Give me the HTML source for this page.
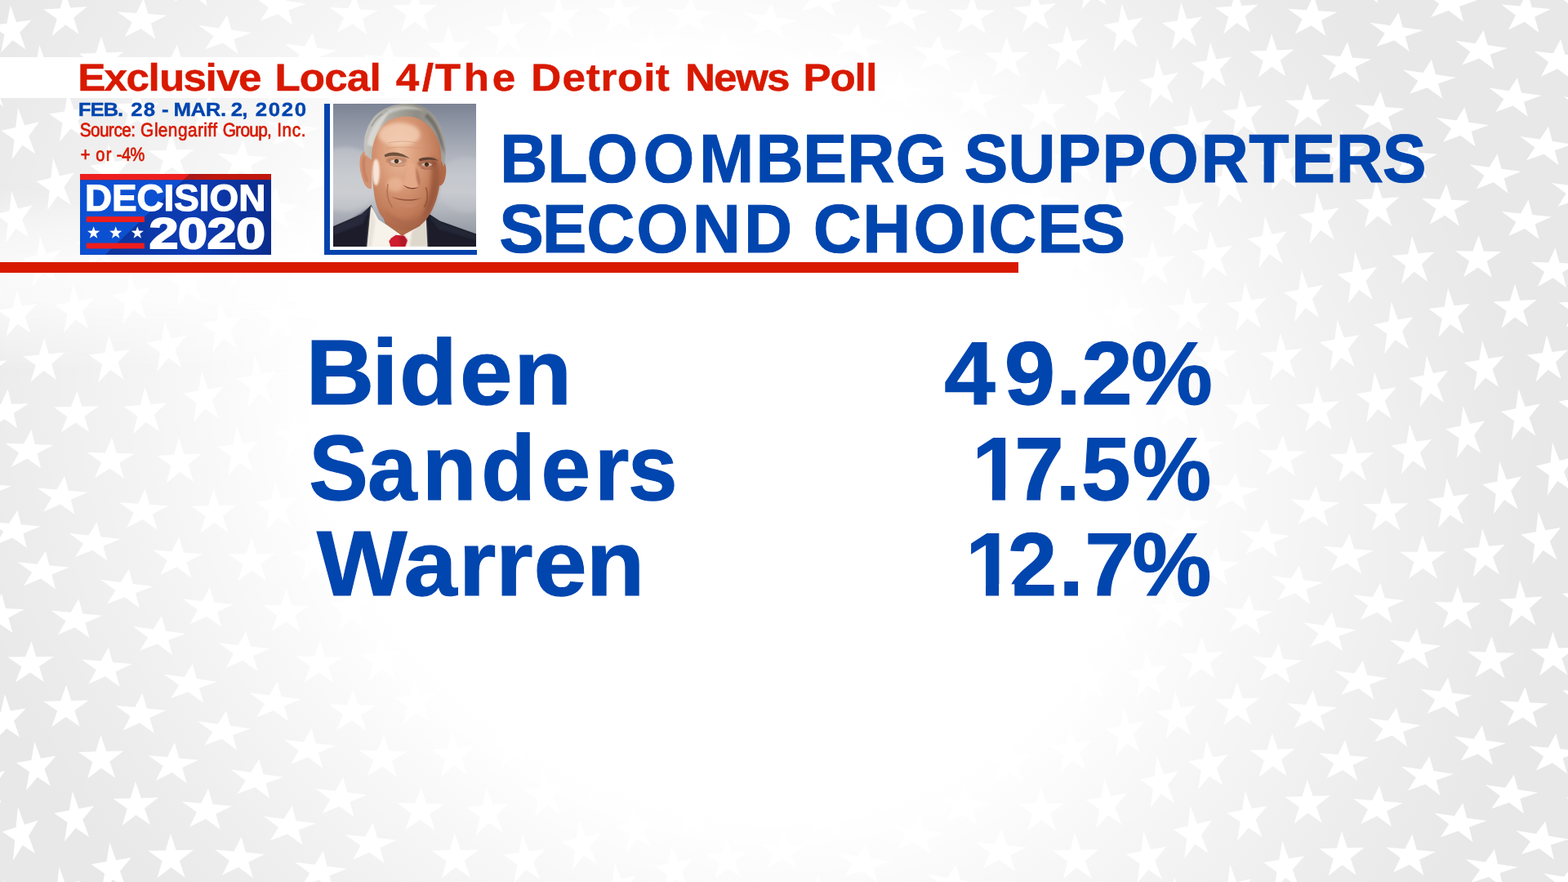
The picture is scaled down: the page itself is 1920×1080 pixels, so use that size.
<!DOCTYPE html>
<html lang="en">
<head>
<meta charset="utf-8">
<title>Exclusive Local 4/The Detroit News Poll</title>
<style>
html,body{margin:0;padding:0;}
body{width:1920px;height:1080px;overflow:hidden;position:relative;background:#e8e8e8;font-family:"Liberation Sans",sans-serif;}
#bg{position:absolute;left:0;top:0;width:1920px;height:1080px;}
#glowwrap{position:absolute;left:0;top:0;width:1920px;height:1080px;overflow:hidden;}
#glow{position:absolute;left:-613.5px;top:-960.2px;width:3000px;height:3000px;transform:rotate(28.21deg);
  background:radial-gradient(ellipse 1042.4px 903.5px at 1500px 1500px, rgba(255,255,255,1.000) 0.00%, rgba(255,255,255,1.000) 46.57%, rgba(255,255,255,0.997) 48.57%, rgba(255,255,255,0.985) 50.07%, rgba(255,255,255,0.955) 52.07%, rgba(255,255,255,0.902) 54.23%, rgba(255,255,255,0.805) 58.39%, rgba(255,255,255,0.711) 62.55%, rgba(255,255,255,0.618) 66.71%, rgba(255,255,255,0.527) 70.88%, rgba(255,255,255,0.439) 75.04%, rgba(255,255,255,0.353) 79.20%, rgba(255,255,255,0.271) 83.36%, rgba(255,255,255,0.193) 87.52%, rgba(255,255,255,0.119) 91.68%, rgba(255,255,255,0.052) 95.84%, rgba(255,255,255,0.000) 100.00%);}
#lineglow{position:absolute;left:0;top:225px;width:1400px;height:240px;
  background:linear-gradient(180deg, rgba(255,255,255,0) 0px, rgba(255,255,255,0.12) 20px, rgba(255,255,255,0.42) 49px, rgba(255,255,255,0.56) 70px, rgba(255,255,255,0.65) 90px, rgba(255,255,255,0.70) 111px, rgba(255,255,255,0.67) 145px, rgba(255,255,255,0.57) 155px, rgba(255,255,255,0.40) 178px, rgba(255,255,255,0.25) 200px, rgba(255,255,255,0.04) 228px, rgba(255,255,255,0) 240px);
  -webkit-mask-image:linear-gradient(90deg,#000 0,#000 60%,transparent 100%);mask-image:linear-gradient(90deg,#000 0,#000 60%,transparent 100%);}
#band{position:absolute;left:0;top:70px;width:1300px;height:50px;background:linear-gradient(90deg,#fff 0,#fff 55%,rgba(255,255,255,0) 100%);}
.t{position:absolute;white-space:nowrap;line-height:1;transform-origin:0 0;margin:0;}
.ln{position:absolute;left:0;width:1920px;height:0;margin:0;white-space:pre;}
#redline{position:absolute;left:0;top:321px;width:1247px;height:13px;background:#d81900;}
</style>
</head>
<body>
<svg id="bg" width="1920" height="1080" viewBox="0 0 1920 1080" style="position:absolute;left:0;top:0;" aria-hidden="true"><g fill="#ffffff">
<polygon points="1513.9,-13.1 1520.4,7.0 1540.7,5.6 1524.5,19.4 1531.0,39.4 1514.4,27.9 1498.2,41.7 1504.2,20.7 1487.6,9.2 1507.9,7.8"/>
<polygon points="1608.7,-5.8 1614.3,13.2 1637.4,14.7 1617.7,24.9 1623.3,43.9 1605.6,31.2 1585.9,41.4 1594.6,23.4 1576.8,10.7 1600.0,12.2"/>
<polygon points="1712.6,15.3 1717.6,33.5 1742.5,37.1 1720.7,44.7 1725.8,62.9 1707.3,49.5 1685.5,57.1 1695.8,41.1 1677.4,27.7 1702.3,31.3"/>
<polygon points="1816.6,36.9 1821.6,55.3 1846.1,58.8 1824.7,66.7 1829.8,85.1 1811.5,71.6 1790.1,79.6 1800.2,63.3 1781.9,49.8 1806.5,53.2"/>
<polygon points="1870.4,-10.2 1875.8,8.9 1898.9,11.0 1879.1,20.8 1884.5,39.9 1866.8,26.8 1847.0,36.5 1855.9,18.7 1838.3,5.5 1861.4,7.6"/>
<polygon points="1557.1,41.5 1563.7,61.4 1584.6,60.6 1567.7,73.7 1574.3,93.6 1557.3,81.8 1540.5,95.0 1546.8,74.5 1529.8,62.7 1550.7,61.9"/>
<polygon points="1650.0,51.4 1655.7,70.4 1679.2,72.4 1659.3,82.1 1665.0,101.0 1646.9,88.1 1627.0,97.8 1635.8,80.1 1617.8,67.1 1641.2,69.1"/>
<polygon points="1752.9,72.9 1758.0,91.2 1782.7,94.8 1761.1,102.5 1766.2,120.8 1747.7,107.3 1726.1,114.9 1736.3,98.9 1717.9,85.4 1742.6,89.0"/>
<polygon points="1857.9,95.1 1862.9,113.4 1887.4,117.0 1866.0,124.8 1870.9,143.1 1852.7,129.6 1831.2,137.3 1841.4,121.2 1823.2,107.6 1847.7,111.2"/>
<polygon points="1600.8,102.0 1607.7,122.2 1628.9,121.6 1611.9,134.7 1618.8,154.9 1601.5,142.7 1584.6,155.8 1590.8,135.2 1573.4,123.1 1594.6,122.5"/>
<polygon points="1690.4,111.8 1696.4,131.0 1719.7,132.9 1700.0,142.9 1705.9,162.0 1687.9,149.0 1668.2,158.9 1676.7,140.9 1658.6,127.9 1681.9,129.8"/>
<polygon points="1793.4,131.3 1798.5,149.7 1823.0,153.2 1801.6,161.0 1806.7,179.4 1788.4,165.9 1767.0,173.7 1777.1,157.5 1758.8,144.0 1783.3,147.5"/>
<polygon points="1896.1,154.8 1900.8,172.9 1925.3,176.7 1903.8,184.2 1908.6,202.3 1890.5,188.8 1869.0,196.3 1879.3,180.4 1861.2,166.9 1885.7,170.6"/>
<polygon points="1833.5,188.4 1838.5,206.8 1862.7,210.1 1841.7,218.2 1846.7,236.7 1828.7,223.3 1807.6,231.4 1817.5,215.0 1799.5,201.6 1823.6,204.8"/>
<polygon points="1771.1,225.1 1777.2,244.8 1799.7,246.0 1780.9,257.0 1786.9,276.7 1769.3,263.7 1750.5,274.7 1758.4,255.7 1740.7,242.8 1763.2,244.0"/>
<polygon points="1685.2,221.6 1692.5,242.7 1713.1,241.6 1697.0,255.8 1704.3,277.0 1687.0,264.6 1670.9,278.8 1676.3,257.0 1659.1,244.6 1679.7,243.4"/>
<polygon points="1871.4,244.5 1876.5,263.0 1899.8,265.4 1879.6,274.5 1884.7,293.0 1867.1,280.0 1847.0,289.1 1856.3,272.0 1838.8,259.1 1862.1,261.5"/>
<polygon points="1612.4,235.4 1620.6,257.7 1639.6,254.6 1625.7,271.5 1633.9,293.8 1617.1,281.9 1603.3,298.8 1606.8,274.6 1590.0,262.8 1608.9,259.7"/>
<polygon points="1549.0,264.3 1557.4,286.7 1575.8,283.2 1562.5,300.5 1570.9,322.9 1554.3,311.2 1541.1,328.6 1544.1,304.0 1527.5,292.3 1546.0,288.8"/>
<polygon points="1481.8,281.9 1489.7,303.6 1508.9,301.1 1494.6,316.9 1502.5,338.6 1485.7,326.7 1471.4,342.6 1475.4,319.4 1458.6,307.6 1477.8,305.1"/>
<polygon points="1729.0,288.7 1736.4,310.2 1756.5,308.4 1741.0,323.4 1748.4,344.9 1731.5,332.7 1716.0,347.7 1721.0,325.2 1704.0,313.0 1724.1,311.2"/>
<polygon points="1810.6,287.7 1816.8,307.7 1838.4,308.0 1820.6,320.0 1826.9,340.0 1809.7,327.5 1791.9,339.6 1799.1,319.8 1781.9,307.3 1803.5,307.5"/>
<polygon points="1904.4,303.4 1909.7,322.0 1931.5,322.8 1913.0,333.6 1918.2,352.2 1901.5,340.2 1882.9,351.0 1891.1,332.8 1874.4,320.8 1896.2,321.6"/>
<polygon points="1659.3,308.0 1667.5,330.4 1686.1,327.0 1672.6,344.3 1680.8,366.7 1664.2,355.0 1650.7,372.3 1653.9,347.7 1637.3,336.0 1656.0,332.6"/>
<polygon points="1593.6,330.2 1601.7,352.5 1620.2,349.0 1606.8,366.3 1614.9,388.6 1598.5,377.0 1585.1,394.3 1588.3,369.8 1571.9,358.2 1590.3,354.7"/>
<polygon points="1524.5,345.7 1531.9,367.2 1551.0,364.7 1536.5,380.4 1543.8,401.8 1527.5,390.1 1512.9,405.9 1517.4,382.9 1501.0,371.2 1520.1,368.7"/>
<polygon points="1773.1,352.8 1780.6,374.3 1800.0,371.9 1785.2,387.6 1792.7,409.0 1776.0,397.2 1761.2,412.9 1765.7,389.9 1749.1,378.1 1768.5,375.7"/>
<polygon points="1855.0,347.8 1861.3,367.8 1881.8,366.9 1865.2,380.2 1871.6,400.2 1855.0,388.4 1838.5,401.7 1844.8,381.1 1828.2,369.3 1848.7,368.4"/>
<polygon points="1567.8,407.8 1574.9,428.9 1594.6,426.8 1579.3,442.0 1586.4,463.1 1569.9,451.3 1554.7,466.5 1559.7,444.1 1543.2,432.3 1562.8,430.2"/>
<polygon points="1637.7,391.5 1645.8,413.6 1664.4,410.3 1650.7,427.3 1658.8,449.3 1642.3,437.8 1628.6,454.8 1632.1,430.6 1615.6,419.1 1634.2,415.7"/>
<polygon points="1703.6,369.2 1711.8,391.5 1730.3,388.0 1716.9,405.3 1725.0,427.5 1708.5,416.0 1695.1,433.3 1698.3,408.8 1681.8,397.3 1700.3,393.7"/>
<polygon points="1528.5,475.8 1534.2,495.2 1555.7,495.1 1537.6,507.3 1543.3,526.7 1526.5,514.8 1508.5,526.9 1516.1,507.4 1499.4,495.4 1520.9,495.3"/>
<polygon points="1612.7,471.9 1619.8,492.8 1640.1,491.3 1624.1,505.6 1631.1,526.5 1614.2,514.5 1598.2,528.9 1603.8,507.1 1586.8,495.2 1607.2,493.7"/>
<polygon points="1682.9,455.4 1690.9,477.3 1709.8,474.2 1695.8,490.8 1703.8,512.7 1687.2,501.1 1673.2,517.7 1676.9,493.9 1660.3,482.3 1679.2,479.2"/>
<polygon points="1746.7,435.0 1754.9,457.1 1773.3,453.5 1759.9,470.8 1768.1,493.0 1751.7,481.6 1738.4,499.0 1741.6,474.5 1725.1,463.1 1743.5,459.4"/>
<polygon points="1815.1,417.4 1822.7,439.0 1841.5,435.9 1827.5,452.3 1835.2,473.9 1818.8,462.4 1804.7,478.8 1808.7,455.4 1792.3,444.0 1811.1,440.9"/>
<polygon points="1893.9,410.4 1900.7,430.9 1920.0,428.5 1904.9,443.5 1911.7,464.0 1895.6,452.8 1880.5,467.7 1885.6,445.8 1869.5,434.6 1888.8,432.3"/>
<polygon points="1791.5,496.9 1799.8,519.1 1818.1,515.3 1805.0,532.8 1813.3,555.1 1796.9,543.7 1783.7,561.2 1786.7,536.6 1770.2,525.2 1788.5,521.4"/>
<polygon points="1859.4,476.1 1867.4,498.0 1885.7,494.4 1872.4,511.5 1880.4,533.4 1864.1,522.1 1850.8,539.3 1854.1,515.2 1837.8,503.9 1856.1,500.3"/>
<polygon points="1571.1,532.7 1576.8,552.0 1599.2,552.7 1580.3,563.8 1586.1,583.1 1568.7,570.7 1549.8,581.8 1557.9,563.1 1540.5,550.7 1562.9,551.5"/>
<polygon points="1654.7,534.4 1661.6,555.0 1682.5,554.1 1665.9,567.8 1672.9,588.4 1655.7,576.2 1639.1,589.8 1645.0,568.7 1627.9,556.5 1648.7,555.6"/>
<polygon points="1726.0,519.0 1734.0,540.8 1753.1,537.9 1738.9,554.2 1746.8,576.0 1730.1,564.3 1715.9,580.6 1719.7,557.1 1703.0,545.4 1722.1,542.5"/>
<polygon points="1900.9,541.4 1909.6,563.9 1927.6,559.9 1915.0,577.8 1923.7,600.4 1907.2,588.9 1894.6,606.9 1897.0,581.9 1880.4,570.4 1898.5,566.4"/>
<polygon points="1836.1,564.8 1844.8,587.2 1863.1,583.5 1850.1,601.1 1858.7,623.5 1842.0,611.9 1829.0,629.4 1831.7,604.7 1815.1,593.2 1833.4,589.5"/>
<polygon points="1611.6,594.7 1617.3,613.8 1640.4,615.4 1620.8,625.6 1626.5,644.7 1608.7,631.9 1589.1,642.1 1597.7,624.0 1579.9,611.2 1603.0,612.8"/>
<polygon points="1696.3,596.2 1703.2,616.6 1724.5,616.2 1707.5,629.2 1714.3,649.6 1696.9,637.2 1679.8,650.2 1686.1,629.6 1668.7,617.2 1690.0,616.8"/>
<polygon points="1771.6,585.6 1779.6,607.2 1799.0,604.7 1784.5,620.6 1792.5,642.2 1775.6,630.4 1761.0,646.3 1765.1,623.1 1748.1,611.2 1767.6,608.7"/>
<polygon points="1551.3,635.2 1556.2,653.3 1580.2,655.9 1559.2,664.4 1564.0,682.5 1546.2,669.7 1525.1,678.3 1535.1,661.8 1517.3,649.0 1541.3,651.7"/>
<polygon points="1883.6,626.7 1892.4,649.2 1911.1,646.0 1897.8,663.1 1906.6,685.6 1889.6,673.7 1876.3,690.9 1879.1,666.4 1862.1,654.5 1880.8,651.2"/>
<polygon points="1652.5,653.2 1658.1,672.2 1681.6,674.3 1661.6,683.9 1667.2,702.9 1649.2,689.8 1629.2,699.4 1638.1,681.8 1620.0,668.7 1643.6,670.8"/>
<polygon points="1742.0,655.3 1748.9,675.6 1770.5,675.5 1753.1,688.2 1760.0,708.4 1742.4,696.0 1725.0,708.6 1731.5,688.2 1713.9,675.7 1735.5,675.7"/>
<polygon points="1815.1,647.3 1823.1,668.8 1842.9,666.8 1828.0,682.1 1835.9,703.6 1818.7,691.5 1803.8,706.8 1808.1,684.1 1790.9,672.0 1810.8,670.0"/>
<polygon points="1591.1,692.0 1596.1,710.2 1620.5,713.3 1599.1,721.5 1604.0,739.7 1585.9,726.5 1564.5,734.6 1574.7,718.3 1556.5,705.1 1581.0,708.2"/>
<polygon points="1690.2,713.7 1695.7,732.5 1719.7,735.1 1699.1,744.2 1704.6,763.0 1686.4,749.8 1665.8,758.9 1675.1,741.6 1656.9,728.4 1680.9,730.9"/>
<polygon points="1784.9,717.7 1791.5,737.7 1813.6,738.2 1795.6,750.1 1802.2,770.2 1784.5,757.5 1766.5,769.5 1773.5,749.7 1755.9,737.1 1777.9,737.5"/>
<polygon points="1860.9,710.6 1868.4,731.7 1888.9,730.4 1873.1,744.7 1880.6,765.8 1863.3,753.6 1847.5,767.9 1852.6,746.0 1835.3,733.8 1855.8,732.5"/>
<polygon points="1529.9,728.4 1535.1,746.9 1558.4,748.7 1538.2,758.3 1543.4,776.7 1525.8,764.2 1505.6,773.7 1514.9,756.4 1497.3,743.8 1520.6,745.7"/>
<polygon points="1631.1,749.4 1636.1,767.8 1660.8,771.2 1639.2,779.1 1644.3,797.4 1625.9,784.0 1604.3,791.9 1614.5,775.7 1596.2,762.2 1620.9,765.7"/>
<polygon points="1735.0,769.2 1740.5,788.0 1764.6,790.7 1743.9,799.6 1749.3,818.5 1731.1,805.2 1710.3,814.1 1719.8,796.9 1701.5,783.6 1725.6,786.3"/>
<polygon points="1826.6,779.2 1832.7,798.9 1855.1,799.8 1836.5,811.0 1842.7,830.7 1825.1,818.0 1806.5,829.3 1814.1,810.2 1796.5,797.5 1818.9,798.4"/>
<polygon points="1901.4,773.4 1908.3,793.6 1929.4,793.0 1912.5,806.2 1919.3,826.5 1902.0,814.3 1885.1,827.5 1891.4,806.8 1874.1,794.7 1895.2,794.0"/>
<polygon points="1565.8,787.9 1571.2,806.7 1594.6,808.7 1574.6,818.4 1580.1,837.2 1562.2,824.3 1542.2,834.0 1551.2,816.4 1533.3,803.5 1556.8,805.5"/>
<polygon points="1668.9,808.4 1674.0,826.8 1698.8,830.3 1677.1,838.1 1682.2,856.5 1663.7,843.0 1642.1,850.8 1652.3,834.6 1633.8,821.1 1658.6,824.6"/>
<polygon points="1773.0,829.8 1778.3,848.4 1802.5,851.4 1781.5,860.0 1786.8,878.6 1768.5,865.3 1747.5,873.8 1757.3,857.0 1739.0,843.6 1763.3,846.6"/>
<polygon points="1867.5,841.1 1873.2,860.2 1896.1,861.6 1876.8,872.1 1882.5,891.2 1864.8,878.5 1845.5,889.0 1853.9,870.7 1836.3,858.0 1859.1,859.4"/>
<polygon points="1514.9,835.2 1521.4,855.1 1542.4,854.4 1525.4,867.4 1531.9,887.3 1514.9,875.4 1497.9,888.4 1504.4,868.1 1487.3,856.2 1508.4,855.5"/>
<polygon points="1607.8,845.3 1613.5,864.2 1637.0,866.3 1617.0,876.0 1622.7,894.9 1604.6,881.9 1584.6,891.5 1593.5,873.9 1575.4,860.9 1598.9,862.9"/>
<polygon points="1709.9,866.2 1715.0,884.6 1739.7,888.1 1718.1,895.9 1723.2,914.4 1704.8,900.8 1683.2,908.6 1693.4,892.4 1674.9,878.9 1699.7,882.4"/>
<polygon points="1814.8,888.2 1819.8,906.7 1844.1,909.9 1822.9,918.1 1828.0,936.6 1809.8,923.2 1788.6,931.5 1798.6,915.0 1780.5,901.6 1804.8,904.7"/>
<polygon points="1905.2,898.3 1910.4,917.0 1934.0,919.3 1913.7,928.6 1918.9,947.3 1901.1,934.3 1880.8,943.6 1890.1,926.3 1872.3,913.4 1895.8,915.6"/>
<polygon points="1557.7,897.3 1564.6,917.5 1585.7,916.8 1568.9,930.0 1575.7,950.2 1558.5,938.2 1541.6,951.4 1547.8,930.7 1530.5,918.6 1551.6,917.9"/>
<polygon points="1647.1,906.0 1652.9,925.2 1676.2,927.1 1656.5,937.0 1662.4,956.1 1644.3,943.1 1624.6,953.0 1633.2,935.0 1615.2,922.0 1638.5,924.0"/>
<polygon points="1477.2,905.9 1484.9,927.2 1503.7,924.0 1489.7,940.3 1497.4,961.6 1481.0,950.4 1467.0,966.7 1470.9,943.5 1454.5,932.3 1473.3,929.1"/>
<polygon points="1750.4,925.8 1755.4,944.1 1780.0,947.7 1758.5,955.5 1763.5,973.9 1745.2,960.3 1723.7,968.2 1733.9,952.0 1715.6,938.4 1740.2,942.0"/>
<polygon points="1853.9,948.6 1858.5,966.7 1883.1,970.4 1861.4,978.0 1866.0,996.2 1848.0,982.7 1826.2,990.3 1836.8,974.4 1818.7,960.9 1843.3,964.5"/>
<polygon points="1457.4,986.6 1465.8,1008.8 1483.8,1004.6 1471.0,1022.6 1479.4,1044.8 1463.1,1033.6 1450.2,1051.6 1453.0,1026.7 1436.6,1015.6 1454.7,1011.4"/>
<polygon points="1524.7,968.4 1532.6,990.0 1551.5,986.9 1537.5,1003.4 1545.4,1025.0 1528.8,1013.6 1514.8,1030.1 1518.6,1006.6 1502.0,995.2 1520.9,992.0"/>
<polygon points="1600.7,954.4 1607.6,974.8 1628.7,974.2 1611.8,987.4 1618.7,1007.8 1601.4,995.6 1584.6,1008.8 1590.7,988.0 1573.4,975.8 1594.5,975.2"/>
<polygon points="1689.0,962.0 1694.6,981.2 1717.9,983.2 1698.2,993.1 1703.9,1012.2 1686.0,999.2 1666.2,1009.0 1674.9,991.1 1657.0,978.0 1680.3,980.0"/>
<polygon points="1791.3,983.2 1796.0,1001.5 1820.5,1005.1 1798.9,1012.8 1803.5,1031.0 1785.5,1017.5 1763.9,1025.2 1774.3,1009.1 1756.3,995.6 1780.8,999.2"/>
<polygon points="1892.2,1005.8 1896.3,1023.6 1921.1,1027.7 1898.8,1034.6 1902.9,1052.5 1885.0,1038.9 1862.7,1045.9 1874.0,1030.6 1856.1,1017.1 1880.9,1021.1"/>
<polygon points="1570.3,1029.5 1578.0,1051.3 1597.1,1048.3 1582.7,1064.7 1590.5,1086.5 1573.9,1074.8 1559.5,1091.2 1563.6,1067.7 1547.1,1056.0 1566.2,1053.1"/>
<polygon points="1643.0,1017.7 1649.7,1038.3 1670.8,1037.8 1653.8,1051.0 1660.6,1071.6 1643.4,1059.2 1626.5,1072.5 1632.8,1051.6 1615.6,1039.2 1636.7,1038.6"/>
<polygon points="1729.3,1021.6 1734.7,1040.8 1757.9,1042.9 1738.0,1052.7 1743.4,1071.8 1725.8,1058.7 1705.9,1068.5 1714.9,1050.6 1697.2,1037.5 1720.4,1039.5"/>
<polygon points="1829.9,1039.9 1834.1,1057.9 1858.6,1061.7 1836.6,1069.1 1840.8,1087.1 1823.1,1073.7 1801.1,1081.0 1812.1,1065.3 1794.4,1051.9 1818.9,1055.6"/>
<polygon points="38.5,526.1 42.9,544.1 65.3,544.9 45.6,555.2 50.0,573.2 33.4,561.6 13.7,571.9 23.1,554.4 6.5,542.7 29.0,543.6"/>
<polygon points="137.0,535.5 142.7,554.8 165.0,555.4 146.3,566.8 152.0,586.1 134.7,573.8 116.0,585.1 124.0,566.2 106.7,553.9 129.0,554.4"/>
<polygon points="218.9,535.6 225.9,556.4 246.7,555.4 230.3,569.3 237.3,590.1 220.1,577.8 203.6,591.7 209.4,570.3 192.2,558.0 213.0,557.0"/>
<polygon points="79.2,582.7 83.9,600.7 107.5,602.7 86.8,611.8 91.5,629.8 74.0,617.5 53.2,626.6 63.2,609.8 45.7,597.5 69.3,599.5"/>
<polygon points="177.5,598.5 183.3,617.7 206.4,619.2 186.9,629.6 192.6,648.8 174.8,636.0 155.3,646.3 163.8,628.0 146.0,615.2 169.0,616.7"/>
<polygon points="261.5,598.4 268.5,619.0 289.8,618.5 272.8,631.7 279.8,652.3 262.3,639.8 245.3,653.0 251.5,632.1 234.0,619.7 255.3,619.2"/>
<polygon points="118.6,639.2 123.4,657.3 147.7,660.1 126.4,668.5 131.3,686.6 113.3,673.7 92.0,682.1 102.2,665.7 84.2,652.7 108.4,655.6"/>
<polygon points="219.2,657.4 224.9,676.5 248.4,678.6 228.5,688.3 234.2,707.4 216.1,694.3 196.1,704.1 204.9,686.3 186.8,673.2 210.4,675.2"/>
<polygon points="55.8,674.5 60.4,692.3 84.5,694.8 63.3,703.4 68.0,721.2 50.2,708.6 29.0,717.2 39.2,700.9 21.4,688.3 45.5,690.8"/>
<polygon points="157.9,696.7 162.9,714.9 187.5,718.1 166.0,726.2 170.9,744.4 152.7,731.2 131.2,739.2 141.4,723.0 123.1,709.7 147.7,712.9"/>
<polygon points="256.9,718.7 262.5,737.6 286.4,740.1 265.9,749.2 271.5,768.1 253.2,754.9 232.7,764.0 241.9,746.7 223.7,733.5 247.7,736.0"/>
<polygon points="96.3,733.2 101.4,751.4 125.3,753.8 104.5,762.7 109.5,781.0 91.6,768.2 70.8,777.2 80.6,760.4 62.7,747.6 86.6,750.0"/>
<polygon points="197.9,754.2 203.0,772.5 227.7,775.9 206.1,783.8 211.1,802.1 192.7,788.6 171.1,796.5 181.3,780.4 162.9,766.9 187.7,770.4"/>
<polygon points="235.8,812.8 240.9,831.1 265.7,834.7 244.1,842.5 249.2,860.8 230.7,847.3 209.0,855.0 219.3,838.9 200.8,825.4 225.6,829.0"/>
<polygon points="339.4,834.4 344.7,853.0 368.8,855.9 348.0,864.6 353.3,883.2 335.1,869.9 314.2,878.6 323.8,861.7 305.6,848.4 329.8,851.3"/>
<polygon points="432.6,843.8 438.6,863.2 460.8,863.7 442.3,875.2 448.3,894.6 430.9,882.3 412.4,893.8 420.1,874.7 402.7,862.4 424.9,862.9"/>
<polygon points="81.1,838.4 87.4,857.9 108.7,857.4 91.3,870.0 97.7,889.5 80.6,877.7 63.3,890.3 70.1,870.5 53.1,858.7 74.3,858.2"/>
<polygon points="174.2,848.7 179.9,867.5 203.5,869.7 183.3,879.1 189.0,897.9 170.9,884.9 150.8,894.4 159.7,876.9 141.7,863.9 165.3,866.1"/>
<polygon points="276.9,870.3 282.0,888.7 306.8,892.3 285.1,900.0 290.2,918.4 271.8,904.8 250.2,912.6 260.4,896.4 241.9,882.9 266.7,886.5"/>
<polygon points="381.5,891.7 386.7,910.3 410.8,913.1 389.9,921.8 395.1,940.4 377.0,927.1 356.1,935.8 365.8,919.0 347.7,905.7 371.8,908.6"/>
<polygon points="42.4,907.9 49.9,928.8 68.5,925.5 54.5,941.7 62.0,962.6 45.9,951.7 31.9,968.0 35.9,945.0 19.8,934.1 38.4,930.8"/>
<polygon points="123.5,899.9 130.3,920.0 151.4,919.4 134.4,932.4 141.2,952.4 123.9,940.4 107.0,953.4 113.3,933.0 96.1,920.9 117.2,920.3"/>
<polygon points="213.7,909.3 219.5,928.4 242.9,930.4 223.1,940.1 228.8,959.2 210.8,946.1 190.9,955.8 199.6,938.0 181.6,925.0 205.0,927.1"/>
<polygon points="317.3,929.6 322.4,948.0 347.0,951.5 325.5,959.3 330.5,977.7 312.2,964.1 290.6,972.0 300.8,955.8 282.5,942.3 307.1,945.8"/>
<polygon points="420.2,951.7 425.4,970.3 449.5,973.2 428.6,981.9 433.7,1000.5 415.6,987.2 394.6,995.9 404.4,979.0 386.3,965.7 410.5,968.6"/>
<polygon points="21.9,987.8 30.0,1009.8 46.8,1004.4 35.0,1023.4 43.1,1045.3 27.7,1035.1 15.9,1054.0 18.2,1028.7 2.8,1018.5 19.6,1013.1"/>
<polygon points="88.7,968.7 96.5,990.2 115.1,986.8 101.3,1003.5 109.1,1025.0 92.7,1013.8 78.9,1030.5 82.6,1006.9 66.3,995.7 84.9,992.3"/>
<polygon points="165.9,956.8 172.8,977.2 194.0,976.6 177.0,989.8 183.9,1010.1 166.5,997.9 149.6,1011.0 155.8,990.3 138.5,978.0 159.7,977.5"/>
<polygon points="255.0,965.7 260.7,984.8 284.0,986.9 264.2,996.7 269.9,1015.8 252.0,1002.7 232.1,1012.5 240.9,994.6 222.9,981.5 246.2,983.5"/>
<polygon points="357.8,986.5 362.6,1004.9 387.1,1008.3 365.6,1016.3 370.4,1034.7 352.3,1021.2 330.8,1029.2 341.1,1012.9 323.0,999.4 347.5,1002.8"/>
<polygon points="134.4,1031.4 142.1,1053.2 161.1,1050.1 146.9,1066.7 154.7,1088.5 138.2,1076.9 124.1,1093.5 128.0,1069.8 111.5,1058.2 130.4,1055.1"/>
<polygon points="208.9,1020.5 215.7,1041.1 236.9,1040.7 219.9,1053.9 226.6,1074.6 209.4,1062.1 192.4,1075.3 198.7,1054.3 181.4,1041.8 202.6,1041.4"/>
<polygon points="295.5,1024.6 300.9,1043.8 324.2,1045.9 304.3,1055.7 309.8,1075.0 292.0,1061.8 272.1,1071.7 281.0,1053.7 263.3,1040.5 286.5,1042.6"/>
<polygon points="395.8,1042.0 400.6,1060.7 424.9,1063.7 403.5,1072.2 408.2,1090.9 390.3,1077.5 368.9,1086.0 379.2,1069.2 361.2,1055.8 385.5,1058.8"/>
<polygon points="89.6,347.3 96.6,368.3 115.0,365.1 101.0,381.3 108.0,402.3 92.3,391.3 78.3,407.6 82.6,384.5 66.9,373.6 85.3,370.3"/>
<polygon points="54.2,413.7 59.8,433.3 79.4,431.5 63.3,445.4 68.9,465.1 53.4,454.1 37.3,468.0 43.7,447.3 28.2,436.3 47.7,434.4"/>
<polygon points="133.2,409.6 140.2,430.5 159.5,428.1 144.5,443.5 151.4,464.4 135.2,453.0 120.1,468.4 125.1,445.9 108.9,434.5 128.2,432.1"/>
<polygon points="201.7,392.3 209.6,414.2 228.2,410.7 214.5,427.7 222.4,449.7 206.0,438.3 192.3,455.3 195.8,431.2 179.4,419.8 198.1,416.3"/>
<polygon points="94.6,478.4 100.1,497.8 121.3,497.3 103.5,509.7 109.1,529.1 92.5,517.4 74.8,529.8 82.3,510.2 65.8,498.5 87.0,498.0"/>
<polygon points="177.3,474.1 184.3,494.9 204.5,493.3 188.6,507.8 195.6,528.7 178.8,516.8 162.9,531.4 168.4,509.5 151.5,497.7 171.8,496.0"/>
<polygon points="246.8,454.5 254.7,476.5 273.6,473.4 259.6,490.1 267.6,512.1 250.9,500.4 236.9,517.1 240.7,493.2 224.1,481.6 243.0,478.4"/>
<polygon points="22.0,131.7 30.2,153.4 47.9,149.2 35.2,166.8 43.3,188.5 27.4,177.7 14.7,195.2 17.5,171.0 1.5,160.1 19.2,156.0"/>
<polygon points="83.1,113.4 90.8,134.6 109.6,131.5 95.5,147.7 103.2,168.8 86.8,157.6 72.7,173.8 76.7,150.7 60.3,139.5 79.1,136.5"/>
<polygon points="64.9,193.3 73.3,215.4 91.1,211.2 78.4,229.0 86.8,251.0 70.6,240.0 57.9,257.8 60.6,233.2 44.4,222.1 62.3,218.0"/>
<polygon points="14.2,234.0 22.2,255.6 39.7,251.3 27.2,268.9 35.2,290.6 19.4,279.9 6.9,297.5 9.7,273.2 -6.1,262.6 11.4,258.2"/>
<polygon points="79.7,-10.5 86.2,9.5 106.5,8.2 90.2,21.8 96.6,41.8 80.1,30.3 63.7,43.9 69.8,23.1 53.3,11.6 73.6,10.3"/>
<polygon points="175.8,-1.9 181.3,17.1 204.5,18.7 184.8,28.8 190.3,47.8 172.6,35.1 152.8,45.2 161.6,27.2 143.8,14.5 167.0,16.1"/>
<polygon points="508.2,830.6 515.0,850.9 535.2,849.0 519.3,863.5 526.1,883.8 509.4,872.4 493.5,887.0 499.1,865.4 482.4,854.1 502.6,852.1"/>
<polygon points="553.9,894.5 561.1,915.4 581.5,913.8 565.5,928.3 572.6,949.2 555.6,937.3 539.5,951.8 545.0,929.9 528.0,918.0 548.4,916.4"/>
<polygon points="515.6,963.8 522.1,984.0 544.5,984.6 526.1,996.5 532.6,1016.7 514.7,1003.8 496.3,1015.7 503.7,995.9 485.8,983.0 508.2,983.6"/>
<polygon points="595.6,963.9 603.3,985.2 623.7,983.4 608.1,998.3 615.8,1019.6 598.5,1007.6 582.9,1022.6 587.8,1000.2 570.4,988.1 590.8,986.3"/>
<polygon points="664.5,940.9 672.6,962.1 691.6,958.9 677.7,975.3 685.8,996.5 669.1,985.4 655.1,1001.7 658.7,978.5 642.0,967.3 661.0,964.1"/>
<polygon points="556.6,1019.9 564.0,1040.9 585.9,1040.5 568.6,1053.8 576.0,1074.8 557.9,1062.1 540.7,1075.4 546.8,1054.2 528.7,1041.5 550.6,1041.1"/>
<polygon points="639.6,1021.2 647.9,1042.4 667.5,1039.6 653.0,1055.4 661.3,1076.6 644.0,1065.2 629.5,1081.0 633.4,1058.2 616.1,1046.8 635.7,1044.0"/>
<polygon points="708.9,1004.0 717.3,1024.6 735.7,1020.7 722.6,1037.3 731.0,1057.9 714.4,1047.6 701.2,1064.2 704.1,1041.2 687.6,1030.8 706.0,1027.0"/>
<polygon points="775.6,985.0 783.7,1004.9 802.1,1001.3 788.7,1017.2 796.8,1037.0 780.4,1027.0 767.0,1042.9 770.3,1020.8 754.0,1010.7 772.3,1007.1"/>
<polygon points="1274.4,962.9 1281.6,983.5 1303.3,983.4 1286.0,996.3 1293.2,1017.0 1275.3,1004.3 1258.0,1017.2 1264.3,996.5 1246.4,983.8 1268.1,983.6"/>
<polygon points="1352.3,952.9 1360.3,974.6 1379.6,971.8 1365.3,988.1 1373.4,1009.8 1356.4,998.1 1342.1,1014.4 1346.0,990.9 1329.1,979.3 1348.4,976.4"/>
<polygon points="1416.8,926.2 1424.9,948.0 1443.1,944.0 1429.9,961.4 1438.0,983.2 1421.8,972.2 1408.6,989.6 1411.7,965.4 1395.5,954.4 1413.6,950.4"/>
<polygon points="1310.1,888.2 1317.5,908.9 1336.9,906.1 1322.1,921.8 1329.6,942.6 1313.0,931.5 1298.3,947.1 1302.8,924.6 1286.2,913.5 1305.6,910.7"/>
<polygon points="1375.6,865.6 1383.2,886.6 1401.6,882.8 1387.9,899.6 1395.5,920.6 1379.5,910.0 1365.9,926.8 1369.6,903.4 1353.6,892.8 1371.9,889.0"/>
<polygon points="1226.3,1015.2 1232.8,1035.0 1256.9,1037.6 1236.8,1047.2 1243.2,1066.9 1224.3,1053.1 1204.1,1062.6 1212.6,1044.5 1193.7,1030.7 1217.9,1033.3"/>
<polygon points="1315.8,1019.2 1323.7,1040.7 1345.2,1040.2 1328.6,1053.9 1336.6,1075.4 1318.4,1062.4 1301.8,1076.2 1307.1,1054.4 1289.0,1041.5 1310.5,1041.0"/>
<polygon points="1400.5,1017.8 1409.0,1040.2 1427.8,1036.8 1414.3,1054.0 1422.8,1076.4 1405.9,1064.7 1392.4,1081.9 1395.5,1057.4 1378.6,1045.7 1397.4,1042.3"/>
<polygon points="1373.7,4.4 1381.1,24.9 1399.6,21.4 1385.7,37.6 1393.1,58.1 1377.1,47.6 1363.1,63.8 1367.2,41.1 1351.2,30.6 1369.7,27.1"/>
<polygon points="1306.0,30.5 1313.2,50.4 1332.7,47.8 1317.6,62.6 1324.8,82.4 1308.3,71.7 1293.2,86.5 1298.1,65.1 1281.6,54.5 1301.1,51.9"/>
<polygon points="1416.8,71.2 1424.4,92.4 1442.9,88.9 1429.2,105.5 1436.8,126.6 1420.7,115.7 1407.0,132.2 1410.7,108.9 1394.6,98.0 1413.0,94.5"/>
<polygon points="1107.1,-6.1 1112.9,10.9 1137.0,13.7 1116.5,21.4 1122.4,38.4 1103.9,26.1 1083.5,33.9 1092.5,18.6 1074.0,6.3 1098.1,9.1"/>
<polygon points="1190.6,-5.5 1196.9,12.2 1218.7,12.6 1200.8,23.1 1207.0,40.8 1189.7,29.6 1171.8,40.2 1179.0,22.7 1161.6,11.6 1183.4,12.0"/>
<polygon points="1266.6,-12.7 1273.5,5.9 1293.4,3.9 1277.7,17.5 1284.5,36.1 1268.0,25.8 1252.2,39.4 1257.7,19.5 1241.2,9.2 1261.1,7.2"/>
<polygon points="1050.5,29.2 1056.0,46.4 1081.4,50.6 1059.5,57.0 1065.0,74.1 1045.9,61.0 1024.0,67.4 1034.1,52.8 1015.0,39.6 1040.4,43.8"/>
<polygon points="1149.3,42.7 1155.1,60.4 1178.5,62.6 1158.7,71.4 1164.5,89.1 1146.5,76.8 1126.8,85.5 1135.4,69.2 1117.4,56.8 1140.7,59.0"/>
<polygon points="1232.7,45.4 1239.1,64.1 1260.4,63.9 1243.1,75.7 1249.6,94.4 1232.4,83.0 1215.1,94.8 1221.8,75.9 1204.7,64.5 1226.0,64.3"/>
<polygon points="508.4,-14.5 514.8,5.9 535.9,5.6 518.7,18.5 525.1,39.0 508.0,26.5 490.8,39.4 497.5,18.8 480.5,6.4 501.7,6.1"/>
<polygon points="617.8,8.2 625.5,29.9 645.0,27.9 630.3,43.4 638.0,65.1 621.2,52.9 606.5,68.4 610.8,45.5 594.0,33.3 613.5,31.2"/>
<polygon points="549.1,30.4 556.0,51.4 576.7,50.3 560.3,64.3 567.2,85.3 550.1,72.9 533.7,86.9 539.6,65.3 522.5,53.0 543.2,52.0"/>
<polygon points="682.7,-7.9 690.4,12.8 709.8,10.9 695.2,25.6 702.9,46.4 686.2,34.7 671.6,49.5 675.9,27.6 659.2,15.9 678.5,14.0"/>
<polygon points="756.4,-9.9 763.6,8.9 784.1,8.0 768.0,20.4 775.2,39.2 758.1,28.1 742.0,40.6 747.5,21.3 730.4,10.3 750.9,9.4"/>
<polygon points="845.9,-4.1 852.4,12.8 875.5,14.3 856.3,23.3 862.8,40.2 844.5,28.9 825.3,37.9 833.2,21.9 814.9,10.5 838.1,12.0"/>
<polygon points="945.2,4.7 951.0,21.4 976.5,25.3 954.6,31.7 960.4,48.4 941.1,35.7 919.2,42.1 929.1,27.8 909.8,15.1 935.3,19.0"/>
<polygon points="796.9,33.2 803.9,51.6 824.9,50.9 808.2,62.9 815.2,81.2 797.8,70.3 781.1,82.3 787.1,63.6 769.8,52.6 790.8,52.0"/>
<polygon points="886.6,38.2 892.7,55.5 916.4,57.5 896.5,66.2 902.5,83.4 884.1,71.5 864.2,80.1 872.8,64.1 854.4,52.2 878.1,54.2"/>
<polygon points="278.3,18.5 283.3,36.6 308.1,40.2 286.4,47.9 291.4,66.0 272.9,52.6 251.1,60.2 261.5,44.3 243.0,30.8 267.9,34.4"/>
<polygon points="1481.9,51.7 1489.2,72.5 1508.1,69.6 1493.7,85.3 1501.0,106.0 1484.8,94.9 1470.3,110.5 1474.7,88.1 1458.5,77.0 1477.4,74.2"/>
<polygon points="1519.3,110.4 1527.0,131.5 1546.1,128.7 1531.8,144.6 1539.5,165.7 1522.9,154.4 1508.6,170.3 1512.7,147.4 1496.1,136.1 1515.2,133.3"/>
<polygon points="1457.9,128.8 1465.9,150.3 1484.5,147.0 1470.8,163.6 1478.8,185.2 1462.4,173.9 1448.8,190.6 1452.2,167.0 1435.8,155.7 1454.4,152.4"/>
<polygon points="1454.4,351.4 1461.1,371.8 1481.1,370.4 1465.2,384.5 1471.8,404.9 1455.3,393.2 1439.4,407.3 1445.1,385.9 1428.6,374.2 1448.7,372.7"/>
<polygon points="1488.9,410.1 1494.9,430.1 1515.2,429.0 1498.5,442.5 1504.5,462.4 1488.2,450.8 1471.6,464.3 1478.2,443.6 1461.9,431.9 1482.3,430.8"/>
<polygon points="1513.4,578.2 1518.2,596.2 1541.7,598.1 1521.2,607.4 1525.9,625.4 1508.5,613.1 1488.0,622.4 1497.7,605.5 1480.2,593.3 1503.7,595.1"/>
<polygon points="1472.0,522.2 1476.6,540.3 1499.1,541.2 1479.4,551.6 1484.0,569.7 1467.3,558.0 1447.6,568.4 1456.9,550.7 1440.2,539.0 1462.7,539.8"/>
<polygon points="1490.1,669.2 1494.9,687.2 1518.1,688.7 1497.9,698.4 1502.8,716.4 1485.5,704.4 1465.4,714.1 1474.8,696.9 1457.5,684.9 1480.6,686.3"/>
<polygon points="1471.5,779.4 1477.7,798.9 1498.5,797.9 1481.5,811.0 1487.6,830.5 1471.0,819.1 1454.0,832.1 1460.7,812.0 1444.0,800.6 1464.8,799.6"/>
<polygon points="289.5,520.7 297.5,542.7 316.8,539.9 302.5,556.2 310.5,578.2 293.6,566.3 279.3,582.7 283.2,559.0 266.4,547.1 285.6,544.4"/>
<polygon points="336.3,588.7 344.3,610.5 363.9,608.1 349.3,624.0 357.4,645.8 340.3,633.8 325.8,649.7 329.8,626.4 312.7,614.4 332.3,612.0"/>
<polygon points="308.0,657.6 314.9,678.1 336.5,677.9 319.2,690.7 326.2,711.1 308.5,698.6 291.3,711.4 297.6,690.8 280.0,678.3 301.6,678.2"/>
<polygon points="350.6,721.1 357.2,741.2 379.1,741.5 361.3,753.7 367.9,773.8 350.2,761.2 332.4,773.3 339.3,753.4 321.7,740.8 343.6,741.0"/>
<polygon points="301.2,772.7 306.7,791.6 330.7,794.2 310.1,803.2 315.6,822.1 297.3,808.8 276.7,817.8 286.0,800.6 267.8,787.3 291.8,789.9"/>
<polygon points="158.8,333.1 166.7,355.1 185.0,351.3 171.6,368.7 179.6,390.7 163.4,379.4 150.0,396.8 153.4,372.4 137.2,361.2 155.4,357.4"/>
<polygon points="269.2,368.5 277.3,390.7 296.0,387.3 282.3,404.3 290.3,426.5 273.8,414.9 260.1,432.0 263.6,407.8 247.1,396.2 265.7,392.8"/>
<polygon points="311.9,435.5 320.1,457.7 338.7,454.2 325.1,471.4 333.3,493.7 316.8,482.1 303.2,499.3 306.5,474.9 290.0,463.3 308.6,459.9"/>
<polygon points="625.2,881.1 632.9,902.3 652.1,899.6 637.6,915.4 645.3,936.6 628.7,925.2 614.3,941.1 618.4,918.2 601.8,906.8 621.0,904.0"/>
<polygon points="729.8,922.0 737.7,942.4 756.6,939.3 742.6,955.1 750.5,975.5 733.9,964.8 719.9,980.5 723.7,958.2 707.1,947.5 726.0,944.4"/>
<polygon points="846.0,971.6 853.2,990.7 872.7,988.7 857.6,1002.6 864.8,1021.7 848.3,1011.2 833.2,1025.1 838.1,1004.7 821.6,994.1 841.1,992.0"/>
<polygon points="822.1,1036.3 829.9,1055.3 848.1,1051.8 834.8,1067.0 842.6,1086.0 826.5,1076.4 813.2,1091.5 816.6,1070.4 800.5,1060.8 818.7,1057.4"/>
<polygon points="888.8,1025.1 895.7,1043.6 915.2,1042.0 900.0,1055.0 906.9,1073.5 890.6,1063.1 875.4,1076.2 880.5,1056.7 864.2,1046.3 883.7,1044.6"/>
<polygon points="1126.1,997.6 1131.2,1016.0 1156.5,1020.3 1134.3,1027.4 1139.4,1045.8 1120.6,1031.8 1098.5,1038.9 1109.0,1023.2 1090.2,1009.2 1115.5,1013.4"/>
<polygon points="1061.0,1033.2 1066.1,1051.1 1091.1,1055.1 1069.2,1062.1 1074.2,1080.1 1055.6,1066.5 1033.7,1073.6 1044.2,1058.2 1025.6,1044.6 1050.6,1048.6"/>
<polygon points="1234.8,905.3 1241.5,925.1 1262.9,924.9 1245.6,937.4 1252.2,957.2 1234.8,945.1 1217.5,957.6 1224.1,937.6 1206.7,925.5 1228.2,925.3"/>
<polygon points="1182.2,961.0 1187.9,980.2 1211.9,982.9 1191.5,992.0 1197.2,1011.2 1178.8,997.6 1158.4,1006.8 1167.5,989.3 1149.2,975.8 1173.1,978.5"/>
<polygon points="1332.8,803.7 1339.8,823.4 1358.3,819.5 1344.1,835.6 1351.1,855.3 1335.3,845.6 1321.1,861.6 1325.6,839.5 1309.8,829.8 1328.3,825.9"/>
<polygon points="1403.7,797.5 1410.5,817.5 1429.5,814.3 1414.8,829.9 1421.6,849.9 1405.7,839.5 1391.0,855.1 1395.8,833.1 1379.9,822.7 1398.8,819.5"/>
<polygon points="1018.4,977.8 1023.3,995.8 1047.6,999.0 1026.3,1006.9 1031.2,1024.9 1013.2,1011.7 991.9,1019.6 1002.0,1003.6 984.0,990.5 1008.3,993.7"/>
<polygon points="1194.3,96.4 1200.1,115.0 1223.1,116.9 1203.6,126.5 1209.3,145.2 1191.5,132.5 1172.0,142.1 1180.5,124.6 1162.8,111.9 1185.8,113.8"/>
<polygon points="1277.6,107.4 1284.2,127.4 1305.6,127.0 1288.4,139.7 1295.1,159.7 1277.7,147.5 1260.5,160.2 1267.0,140.0 1249.7,127.9 1271.0,127.6"/>
<polygon points="1352.2,92.3 1359.7,113.3 1379.1,110.7 1364.4,126.3 1371.9,147.2 1355.2,135.9 1340.4,151.5 1344.9,128.9 1328.3,117.5 1347.7,114.9"/>
<polygon points="345.4,-17.2 350.4,1.1 374.9,4.4 353.5,12.4 358.4,30.7 340.2,17.3 318.7,25.4 328.9,9.1 310.7,-4.2 335.2,-0.9"/>
<polygon points="434.9,-8.0 440.4,11.2 463.2,12.7 443.9,23.1 449.4,42.4 431.9,29.6 412.6,40.1 421.1,21.7 403.6,8.9 426.4,10.3"/>
<polygon points="1911.1,47.9 1916.4,66.8 1939.9,69.3 1919.7,78.5 1925.0,97.5 1907.2,84.2 1887.1,93.4 1896.3,76.0 1878.5,62.7 1901.9,65.2"/>
<polygon points="1778.9,-21.4 1783.9,-3.1 1808.6,0.2 1787.0,8.1 1792.0,26.4 1773.7,13.0 1752.1,20.9 1762.3,4.8 1744.0,-8.6 1768.7,-5.2"/>
<polygon points="241.0,-40.3 245.9,-22.1 270.7,-18.7 248.9,-10.9 253.8,7.2 235.4,-6.1 213.6,1.7 224.1,-14.3 205.7,-27.7 230.5,-24.3"/>
<polygon points="382.8,40.2 387.9,58.6 412.2,61.7 391.0,70.0 396.1,88.4 378.0,75.1 356.8,83.5 366.7,66.9 348.6,53.6 372.9,56.7"/>
<polygon points="476.4,50.0 482.2,69.5 504.7,70.5 485.9,81.5 491.7,101.0 474.2,88.3 455.3,99.4 463.4,80.5 445.9,67.8 468.3,68.8"/>
<polygon points="123.9,44.5 130.5,64.4 151.4,63.6 134.5,76.7 141.0,96.6 124.0,84.8 107.1,97.8 113.5,77.5 96.5,65.7 117.5,64.9"/>
<polygon points="217.0,54.8 222.7,73.7 246.2,75.7 226.2,85.4 231.9,104.3 213.9,91.3 193.9,101.0 202.7,83.3 184.6,70.4 208.2,72.4"/>
<polygon points="319.5,76.2 324.6,94.5 349.4,98.0 327.8,105.8 332.9,124.1 314.4,110.6 292.8,118.3 303.0,102.2 284.6,88.7 309.3,92.3"/>
<polygon points="424.2,97.8 429.3,116.3 453.5,119.2 432.5,127.8 437.7,146.3 419.6,133.1 398.7,141.6 408.4,124.9 390.3,111.6 414.4,114.5"/>
<polygon points="513.2,105.9 519.3,125.7 541.9,126.6 523.0,137.9 529.1,157.6 511.4,144.8 492.5,156.1 500.4,136.9 482.7,124.1 505.3,125.1"/>
<polygon points="167.0,106.0 173.9,126.3 195.1,125.7 178.1,138.8 185.0,159.0 167.7,146.9 150.8,159.9 157.0,139.4 139.6,127.2 160.8,126.6"/>
<polygon points="256.6,115.3 262.6,134.5 285.9,136.4 266.2,146.3 272.1,165.5 254.0,152.5 234.4,162.4 242.9,144.4 224.8,131.3 248.1,133.3"/>
<polygon points="359.9,135.1 365.0,153.5 389.5,156.9 368.2,164.9 373.3,183.3 355.0,169.8 333.6,177.8 343.7,161.5 325.3,148.0 349.9,151.4"/>
<polygon points="462.6,157.5 467.7,176.1 491.9,179.0 470.9,187.5 476.0,206.1 457.9,192.8 436.9,201.4 446.7,184.6 428.6,171.4 452.8,174.3"/>
<polygon points="132.7,176.2 140.8,197.9 159.8,194.9 145.8,211.4 153.9,233.1 137.2,221.6 123.2,238.0 126.8,214.4 110.1,202.8 129.1,199.8"/>
<polygon points="209.2,162.9 216.3,183.6 237.4,182.9 220.7,196.4 227.9,217.0 210.4,204.7 193.7,218.1 199.6,197.0 182.2,184.7 203.3,184.0"/>
<polygon points="297.8,171.2 303.7,190.6 326.8,192.3 307.4,202.6 313.4,222.0 295.4,208.9 276.1,219.2 284.3,200.8 266.4,187.7 289.5,189.5"/>
<polygon points="400.2,192.1 405.2,210.6 429.5,213.7 408.4,222.0 413.4,240.5 395.3,227.1 374.2,235.4 384.1,218.8 366.0,205.4 390.3,208.6"/>
<polygon points="500.2,213.9 505.2,232.3 529.2,234.9 508.3,243.7 513.3,262.2 495.3,249.2 474.4,258.0 484.2,241.2 466.3,228.2 490.3,230.8"/>
<polygon points="178.3,238.2 186.5,260.3 205.3,257.1 191.5,274.0 199.6,296.1 182.9,284.4 169.1,301.3 172.6,277.2 155.9,265.5 174.8,262.3"/>
<polygon points="251.5,225.7 258.7,246.8 279.4,245.7 263.2,259.8 270.5,280.9 253.2,268.6 237.0,282.7 242.6,260.9 225.3,248.6 246.0,247.5"/>
<polygon points="337.7,229.5 343.7,249.1 366.3,250.5 347.4,261.3 353.4,281.0 335.7,268.0 316.8,278.8 324.7,260.0 307.0,247.0 329.7,248.3"/>
<polygon points="438.3,248.2 443.2,266.7 467.0,269.2 446.2,278.1 451.2,296.5 433.4,283.5 412.6,292.4 422.4,275.5 404.7,262.6 428.5,265.1"/>
<polygon points="-16.2,74.6 -8.5,95.9 9.3,92.2 -3.7,109.1 4.1,130.4 -11.7,119.5 -24.6,136.4 -21.4,112.8 -37.2,101.9 -19.4,98.2"/>
<polygon points="115.6,267.9 123.7,290.0 141.7,286.0 128.8,303.7 136.9,325.8 120.8,314.6 107.9,332.3 110.8,307.7 94.7,296.6 112.6,292.5"/>
<polygon points="295.7,292.4 303.0,313.8 323.2,312.1 307.5,326.9 314.9,348.2 297.9,336.1 282.3,350.9 287.4,328.6 270.4,316.4 290.6,314.8"/>
<polygon points="377.5,291.5 383.5,311.3 405.5,311.9 387.3,323.6 393.3,343.4 376.0,330.8 357.8,342.6 365.3,323.1 348.0,310.5 369.9,311.0"/>
<polygon points="471.9,307.5 476.8,325.8 499.8,327.1 479.8,337.2 484.7,355.5 467.5,343.4 447.5,353.5 456.8,335.9 439.6,323.8 462.6,325.1"/>
<polygon points="225.9,311.8 234.1,334.0 252.7,330.6 239.1,347.7 247.2,369.9 230.6,358.3 216.9,375.5 220.4,351.2 203.8,339.6 222.5,336.1"/>
<polygon points="339.8,356.6 347.2,377.9 366.9,375.8 351.8,391.1 359.2,412.5 342.4,400.6 327.2,415.9 332.0,393.2 315.3,381.3 335.0,379.2"/>
<polygon points="422.2,351.8 428.2,371.6 449.5,371.1 432.0,383.8 438.0,403.6 421.1,391.6 403.6,404.3 410.7,384.3 393.8,372.3 415.1,371.9"/>
<polygon points="48.9,289.2 56.4,310.4 74.2,306.5 61.0,323.5 68.4,344.7 52.9,334.0 39.7,351.0 43.2,327.4 27.6,316.7 45.4,312.8"/>
<polygon points="381.8,421.1 389.4,442.6 408.6,439.8 394.1,455.9 401.7,477.5 385.1,465.8 370.6,481.9 374.9,458.7 358.4,447.1 377.6,444.3"/>
<polygon points="461.3,414.5 467.7,434.7 488.1,432.9 471.7,447.1 478.1,467.3 461.6,455.9 445.2,470.2 451.4,448.9 434.8,437.5 455.2,435.8"/>
<polygon points="358.0,500.3 366.4,522.6 384.9,519.1 371.6,536.5 379.9,558.8 363.3,547.2 350.0,564.6 353.1,540.0 336.5,528.4 355.0,524.9"/>
<polygon points="426.2,479.8 434.2,501.7 453.0,498.4 439.1,515.2 447.0,537.0 430.5,525.6 416.6,542.3 420.3,518.5 403.7,507.0 422.5,503.7"/>
<polygon points="467.7,545.2 476.3,567.6 494.8,564.1 481.6,581.5 490.2,604.0 473.5,592.3 460.3,609.7 463.2,585.0 446.4,573.3 464.9,569.8"/>
<polygon points="402.7,568.3 411.3,590.7 429.8,587.2 416.7,604.6 425.3,627.1 408.5,615.4 395.4,632.9 398.2,608.2 381.4,596.5 399.9,592.9"/>
<polygon points="450.2,630.4 458.8,652.7 477.4,649.3 464.2,666.5 472.8,688.8 456.0,677.1 442.8,694.3 445.6,669.9 428.8,658.2 447.4,654.8"/>
<polygon points="381.6,650.7 389.5,672.2 409.3,670.1 394.5,685.6 402.4,707.1 385.3,695.1 370.4,710.5 374.7,687.7 357.5,675.6 377.3,673.5"/>
<polygon points="427.3,713.9 434.8,735.0 454.7,733.0 439.4,748.0 446.8,769.0 429.9,757.2 414.6,772.2 419.4,749.9 402.5,738.1 422.4,736.2"/>
<polygon points="392.1,784.5 398.3,804.2 420.4,804.6 402.1,816.3 408.3,836.0 390.8,823.5 372.6,835.2 380.0,815.8 362.5,803.4 384.6,803.9"/>
<polygon points="465.8,777.6 472.8,797.9 492.9,796.0 477.0,810.5 483.9,830.9 467.2,819.5 451.4,834.0 456.9,812.4 440.2,801.0 460.3,799.1"/>
<polygon points="132.8,792.4 138.1,810.9 161.8,813.1 141.5,822.4 146.8,841.0 128.9,828.2 108.6,837.6 117.8,820.3 99.9,807.5 123.5,809.6"/>
<polygon points="470.2,900.1 476.2,919.6 498.7,920.4 479.9,931.7 486.0,951.3 468.4,938.7 449.7,950.1 457.5,931.0 439.9,918.4 462.3,919.2"/>
<polygon points="456.7,1006.9 462.0,1026.1 486.0,1028.6 465.4,1037.9 470.8,1057.1 452.6,1043.7 431.9,1053.0 441.4,1035.4 423.2,1022.1 447.2,1024.6"/>
<polygon points="-18.8,927.4 -11.0,948.7 6.0,943.8 -6.2,961.9 1.6,983.2 -13.8,973.0 -26.0,991.0 -23.3,966.7 -38.6,956.5 -21.6,951.7"/>
<polygon points="38.5,785.2 44.3,804.2 65.9,803.9 48.0,815.9 53.8,835.0 36.9,823.4 19.0,835.4 26.4,816.2 9.5,804.6 31.0,804.3"/>
<polygon points="72.4,1061.3 80.5,1083.6 97.7,1078.4 85.5,1097.3 93.5,1119.5 77.9,1109.0 65.7,1127.8 68.3,1102.4 52.6,1091.8 69.8,1086.7"/>
<polygon points="4.0,1077.4 11.9,1099.3 27.8,1092.9 16.8,1112.9 24.6,1134.8 9.9,1125.3 -1.1,1145.3 0.8,1119.4 -13.9,1109.9 2.0,1103.4"/>
<polygon points="1674.4,-43.8 1679.4,-25.7 1704.2,-22.3 1682.4,-14.4 1687.3,3.7 1668.9,-9.6 1647.1,-1.8 1657.6,-17.8 1639.2,-31.1 1664.0,-27.8"/>
<polygon points="1944.6,-17.9 1950.4,1.8 1972.3,2.9 1953.9,14.0 1959.7,33.8 1942.5,20.9 1924.1,32.1 1931.9,13.0 1914.8,0.1 1936.8,1.2"/>
<polygon points="1948.6,104.9 1953.6,123.4 1977.6,126.6 1956.8,134.9 1961.8,153.5 1943.9,140.0 1923.0,148.3 1932.8,131.7 1914.8,118.3 1938.8,121.5"/>
<polygon points="1499.4,191.5 1507.8,213.5 1526.4,210.3 1512.9,227.2 1521.3,249.2 1504.6,237.6 1491.1,254.5 1494.3,230.4 1477.6,218.8 1496.2,215.5"/>
<polygon points="1566.3,172.7 1574.4,194.5 1593.5,191.7 1579.4,208.0 1587.5,229.7 1570.6,218.0 1556.5,234.3 1560.2,210.8 1543.4,199.1 1562.5,196.2"/>
<polygon points="1642.7,159.4 1649.8,180.1 1670.9,179.4 1654.2,192.9 1661.4,213.5 1643.9,201.2 1627.3,214.7 1633.2,193.6 1615.7,181.2 1636.8,180.5"/>
<polygon points="1731.2,167.6 1737.2,187.1 1760.3,188.8 1740.9,199.1 1746.9,218.5 1729.0,205.4 1709.6,215.7 1717.9,197.4 1699.9,184.3 1723.0,186.0"/>
<polygon points="1934.1,211.2 1938.7,229.2 1962.7,232.5 1941.6,240.4 1946.3,258.4 1928.6,245.2 1907.5,253.1 1917.7,237.1 1900.0,224.0 1923.9,227.2"/>
<polygon points="596.6,99.8 604.0,121.3 624.5,119.8 608.6,134.5 616.0,156.0 598.7,143.7 582.8,158.4 588.1,136.0 570.8,123.7 591.3,122.2"/>
<polygon points="559.0,170.2 565.2,190.2 587.8,190.9 569.1,202.5 575.3,222.4 557.5,209.6 538.8,221.2 546.5,201.7 528.7,188.9 551.2,189.7"/>
<polygon points="638.8,170.0 646.4,191.2 666.8,189.3 651.1,204.3 658.7,225.5 641.4,213.6 625.7,228.6 630.7,206.2 613.4,194.2 633.8,192.3"/>
<polygon points="707.3,146.5 715.6,168.0 734.4,164.5 720.7,181.2 728.9,202.7 712.2,191.6 698.5,208.3 701.9,184.7 685.1,173.6 703.9,170.1"/>
<polygon points="601.1,227.6 607.5,247.3 629.7,247.2 611.5,259.5 617.8,279.3 600.2,267.2 581.9,279.5 589.2,259.7 571.6,247.6 593.8,247.4"/>
<polygon points="683.2,227.8 691.1,248.5 711.0,245.6 696.0,261.2 703.9,281.9 686.7,270.9 671.7,286.5 676.1,264.1 658.9,253.1 678.8,250.2"/>
<polygon points="752.0,210.0 760.4,230.5 778.9,226.4 765.6,243.2 773.9,263.7 757.3,253.6 744.0,270.4 747.1,247.3 730.5,237.2 749.0,233.0"/>
<polygon points="818.7,191.0 826.7,210.9 845.1,207.1 831.7,223.1 839.7,242.9 823.4,233.0 809.9,249.0 813.3,226.9 797.0,216.9 815.4,213.2"/>
<polygon points="1317.5,169.0 1324.6,189.6 1346.5,189.6 1329.0,202.4 1336.2,223.0 1318.3,210.2 1300.9,223.0 1307.2,202.4 1289.3,189.7 1311.1,189.6"/>
<polygon points="1395.6,159.4 1403.5,180.9 1423.2,178.6 1408.4,194.2 1416.4,215.7 1399.3,203.8 1384.5,219.4 1388.7,196.5 1371.6,184.6 1391.3,182.4"/>
<polygon points="1269.2,221.2 1275.7,240.9 1299.9,243.4 1279.8,253.1 1286.3,272.8 1267.4,259.1 1247.3,268.8 1255.7,250.6 1236.7,236.9 1260.8,239.4"/>
<polygon points="1359.4,226.2 1367.0,247.0 1388.8,246.9 1371.7,259.9 1379.3,280.7 1361.1,267.9 1344.0,280.9 1349.8,260.0 1331.6,247.2 1353.5,247.1"/>
<polygon points="1446.4,228.2 1454.5,249.9 1474.1,247.6 1459.5,263.3 1467.7,285.0 1450.5,273.0 1436.0,288.6 1439.9,265.5 1422.8,253.5 1442.4,251.3"/>
<polygon points="1506.0,1058.0 1514.2,1080.4 1532.2,1076.1 1519.3,1094.2 1527.6,1116.5 1511.4,1105.3 1498.5,1123.4 1501.3,1098.4 1485.1,1087.3 1503.1,1083.0"/>
<polygon points="1437.6,1074.1 1446.1,1096.7 1464.5,1092.8 1451.4,1110.7 1460.0,1133.2 1443.4,1121.7 1430.4,1139.5 1433.1,1114.5 1416.5,1103.0 1434.8,1099.1"/>
<polygon points="1263.4,825.2 1270.3,844.4 1289.7,841.6 1274.5,856.3 1281.4,875.5 1265.1,865.4 1249.8,880.1 1255.0,859.1 1238.8,849.0 1258.2,846.2"/>
<polygon points="1063.9,787.7 1069.8,804.7 1093.6,807.1 1073.4,815.2 1079.3,832.2 1061.0,820.2 1040.8,828.4 1049.7,812.8 1031.3,800.9 1055.1,803.2"/>
<polygon points="1147.8,788.7 1153.9,806.1 1175.4,806.0 1157.6,816.8 1163.6,834.2 1146.6,823.5 1128.7,834.4 1136.0,816.9 1119.0,806.2 1140.5,806.1"/>
<polygon points="1224.2,781.9 1230.6,799.9 1250.4,797.4 1234.5,811.1 1240.8,829.1 1224.7,819.5 1208.8,833.1 1214.7,813.5 1198.5,804.0 1218.3,801.5"/>
<polygon points="1007.3,823.0 1012.9,840.2 1038.1,844.0 1016.4,850.9 1022.1,868.1 1003.0,855.1 981.3,861.9 991.3,847.1 972.2,834.1 997.4,837.9"/>
<polygon points="1106.4,836.7 1112.1,854.4 1135.3,856.4 1115.7,865.3 1121.4,882.9 1103.5,870.8 1083.8,879.7 1092.4,863.3 1074.5,851.1 1097.8,853.1"/>
<polygon points="1189.8,839.6 1196.1,858.1 1217.4,857.7 1200.0,869.6 1206.3,888.0 1189.3,876.9 1172.0,888.7 1178.8,869.9 1161.8,858.8 1183.0,858.4"/>
<polygon points="575.0,803.3 582.4,823.9 601.2,820.9 586.9,836.6 594.2,857.2 578.0,846.4 563.7,862.1 568.0,839.7 551.8,828.8 570.7,825.8"/>
<polygon points="640.2,787.0 647.5,807.0 666.7,804.9 652.0,819.3 659.3,839.3 643.0,828.2 628.3,842.7 632.8,821.4 616.5,810.3 635.6,808.3"/>
<polygon points="713.8,784.5 720.8,803.2 741.7,803.0 725.1,814.7 732.1,833.3 714.9,821.9 698.3,833.6 704.2,814.9 687.0,803.5 707.9,803.3"/>
<polygon points="802.9,789.6 809.5,806.9 832.9,808.8 813.5,817.6 820.0,834.9 801.5,823.1 782.1,831.9 790.1,815.7 771.6,803.9 795.0,805.8"/>
<polygon points="901.8,798.2 907.9,815.2 933.3,818.9 911.7,825.7 917.7,842.8 898.3,830.0 876.7,836.8 886.3,822.1 866.8,809.3 892.2,813.0"/>
<polygon points="754.2,827.4 761.0,845.7 782.4,845.5 765.3,857.1 772.1,875.4 754.7,864.2 737.6,875.8 743.9,857.3 726.5,846.1 747.8,845.9"/>
<polygon points="843.4,831.8 849.6,849.3 873.2,851.1 853.5,860.2 859.7,877.7 841.3,865.7 821.5,874.7 829.9,858.3 811.5,846.4 835.0,848.2"/>
<polygon points="1941.9,825.9 1948.2,845.5 1970.0,845.5 1952.1,857.7 1958.4,877.3 1941.1,865.2 1923.2,877.4 1930.4,857.7 1913.1,845.6 1934.8,845.6"/>
<polygon points="1952.7,964.3 1957.1,982.4 1981.7,986.0 1959.8,993.5 1964.3,1011.6 1946.3,998.2 1924.4,1005.8 1935.2,989.9 1917.3,976.6 1941.9,980.2"/>
<polygon points="12.8,6.5 19.9,27.1 38.6,24.5 24.3,39.8 31.4,60.4 15.4,49.3 1.1,64.6 5.5,42.4 -10.4,31.3 8.3,28.7"/>
<polygon points="48.4,55.3 55.6,76.0 74.5,73.2 60.1,88.8 67.3,109.4 51.2,98.4 36.9,114.0 41.3,91.6 25.2,80.5 44.0,77.7"/>
<polygon points="20.9,354.9 27.0,374.9 45.4,371.9 30.8,387.2 37.0,407.2 21.8,396.7 7.3,412.0 12.5,390.2 -2.7,379.7 15.7,376.7"/>
<polygon points="5.9,850.1 12.8,870.2 31.8,867.4 17.1,882.6 24.0,902.7 8.0,892.0 -6.8,907.2 -1.9,885.4 -17.9,874.7 1.1,871.9"/>
<polygon points="667.7,86.3 675.7,108.1 694.8,105.1 680.7,121.5 688.7,143.3 672.0,131.7 657.9,148.1 661.6,124.5 644.9,112.9 664.0,109.9"/>
<polygon points="772.6,127.8 780.6,148.3 799.5,145.0 785.6,161.0 793.7,181.6 777.0,170.9 763.2,186.9 766.8,164.3 750.1,153.7 769.0,150.4"/>
<polygon points="889.2,177.8 896.2,196.8 915.8,194.9 900.6,208.6 907.6,227.7 891.2,217.1 875.9,230.8 881.0,210.5 864.6,199.9 884.2,198.0"/>
<polygon points="865.5,242.3 873.0,261.2 890.9,257.4 877.6,272.8 885.0,291.6 869.3,282.3 856.0,297.7 859.6,276.6 843.9,267.3 861.9,263.5"/>
<polygon points="932.1,231.2 938.7,249.5 957.6,247.6 942.7,260.9 949.3,279.2 933.5,269.1 918.5,282.4 923.7,262.8 907.9,252.7 926.9,250.8"/>
<polygon points="1168.8,203.4 1174.0,221.9 1199.1,225.9 1177.2,233.4 1182.4,251.9 1163.7,237.9 1141.9,245.4 1152.2,229.3 1133.5,215.4 1158.5,219.4"/>
<polygon points="1103.5,238.8 1108.7,256.8 1132.7,260.1 1111.8,267.9 1116.9,285.9 1098.9,272.7 1078.0,280.6 1087.7,264.6 1069.7,251.4 1093.8,254.7"/>
<polygon points="1225.1,166.9 1230.9,186.1 1254.7,188.7 1234.4,198.0 1240.2,217.2 1221.9,203.7 1201.6,213.0 1210.6,195.4 1192.3,181.9 1216.1,184.5"/>
<polygon points="1446.2,2.8 1453.4,23.4 1472.1,20.5 1457.8,36.2 1465.0,56.8 1449.0,45.9 1434.6,61.6 1439.1,39.1 1423.0,28.2 1441.8,25.3"/>
<polygon points="1061.3,183.7 1066.2,201.7 1090.1,204.8 1069.2,212.8 1074.0,230.9 1056.2,217.8 1035.3,225.8 1045.3,209.7 1027.5,196.6 1051.4,199.8"/>
<polygon points="1438.9,845.7 1446.2,866.4 1465.1,863.3 1450.6,879.1 1457.9,899.8 1441.7,888.9 1427.3,904.7 1431.7,882.2 1415.6,871.3 1434.5,868.3"/>
<polygon points="1151.4,890.5 1157.1,909.0 1180.1,911.0 1160.6,920.5 1166.3,939.1 1148.5,926.4 1128.9,936.0 1137.5,918.6 1119.8,905.9 1142.8,907.8"/>
<polygon points="1410.9,294.0 1418.3,314.7 1439.1,313.7 1422.9,327.5 1430.3,348.2 1412.8,336.0 1396.6,349.7 1402.1,328.4 1384.6,316.2 1405.4,315.3"/>
<polygon points="1936.5,350.4 1942.0,369.2 1962.7,368.6 1945.5,380.9 1951.0,399.8 1934.8,388.5 1917.7,400.8 1924.9,381.6 1908.7,370.3 1929.3,369.6"/>
<polygon points="1443.4,472.6 1448.0,491.1 1469.5,491.0 1450.8,502.5 1455.4,521.0 1439.3,509.6 1420.6,521.2 1429.3,502.6 1413.2,491.3 1434.7,491.1"/>
<polygon points="1930.9,465.0 1938.4,486.3 1957.0,483.0 1943.1,499.4 1950.6,520.6 1934.5,509.5 1920.6,525.9 1924.5,502.7 1908.4,491.6 1927.0,488.3"/>
<polygon points="1454.7,619.3 1459.4,637.0 1482.2,637.9 1462.3,648.0 1466.9,665.7 1449.9,654.2 1430.0,664.2 1439.4,647.0 1422.4,635.5 1445.3,636.4"/>
<polygon points="1936.6,701.8 1944.7,723.5 1964.5,721.4 1949.8,737.0 1958.0,758.8 1940.7,746.7 1926.0,762.3 1930.1,739.2 1912.8,727.0 1932.5,724.9"/>
<polygon points="1434.2,719.7 1439.9,738.5 1460.7,737.3 1443.4,750.1 1449.0,769.0 1432.7,758.1 1415.3,771.0 1422.5,751.4 1406.1,740.5 1427.0,739.3"/>
<polygon points="1926.8,1058.7 1930.4,1076.2 1955.4,1080.5 1932.6,1087.1 1936.3,1104.6 1918.6,1091.2 1895.9,1097.8 1907.7,1082.8 1890.0,1069.4 1915.0,1073.6"/>
<polygon points="9.6,476.4 14.0,494.7 35.1,494.3 16.7,506.0 21.1,524.3 5.4,513.3 -13.0,524.9 -4.4,506.4 -20.1,495.3 1.0,495.0"/>
<polygon points="-13.3,576.1 -9.3,593.4 14.0,594.9 -6.8,604.1 -2.8,621.4 -19.6,609.8 -40.4,618.9 -30.0,602.6 -46.8,590.9 -23.6,592.4"/>
<polygon points="21.4,624.8 25.8,642.3 49.7,644.6 28.4,653.2 32.8,670.7 15.3,658.5 -5.9,667.1 4.5,650.9 -12.9,638.7 11.0,641.0"/>
<polygon points="1.9,726.7 7.1,745.1 29.7,745.9 10.3,756.4 15.5,774.9 -1.7,763.0 -21.2,773.5 -12.4,755.6 -29.5,743.7 -6.9,744.5"/>
<polygon points="-15.5,424.2 -10.7,442.9 8.8,441.2 -7.8,454.5 -3.0,473.2 -18.1,462.7 -34.7,476.0 -27.4,456.2 -42.4,445.7 -22.8,444.0"/>
<polygon points="-15.8,305.3 -9.0,325.6 8.7,321.9 -4.8,338.2 2.0,358.6 -13.2,348.3 -26.8,364.5 -22.6,341.9 -37.8,331.6 -20.0,327.9"/>
<polygon points="541.3,759.3 548.6,779.9 567.3,776.6 553.2,792.7 560.6,813.2 544.5,802.6 530.4,818.6 534.5,795.9 518.4,785.3 537.1,782.0"/>
<polygon points="695.5,865.5 703.0,885.7 722.5,883.4 707.7,898.2 715.3,918.4 698.6,907.4 683.8,922.1 688.2,900.5 671.5,889.5 691.0,887.1"/>
<polygon points="752.7,1056.8 761.1,1076.4 779.1,1072.3 766.3,1088.6 774.7,1108.3 758.4,1098.7 745.6,1115.0 748.3,1092.8 732.0,1083.2 750.0,1079.0"/>
<polygon points="802.5,914.7 809.7,934.1 829.8,932.3 814.2,946.1 821.4,965.5 804.5,954.7 788.9,968.4 794.1,947.9 777.2,937.1 797.3,935.3"/>
<polygon points="1170.5,1058.7 1176.2,1077.5 1202.0,1082.0 1179.8,1089.1 1185.5,1107.9 1166.1,1093.5 1143.9,1100.6 1154.0,1084.6 1134.6,1070.2 1160.3,1074.7"/>
<polygon points="1335.9,-45.5 1343.0,-25.8 1361.8,-29.2 1347.5,-13.6 1354.7,6.1 1338.7,-3.9 1324.4,11.7 1328.8,-10.2 1312.8,-20.2 1331.5,-23.6"/>
<polygon points="1007.8,-22.8 1013.6,-6.2 1039.5,-1.8 1017.3,4.0 1023.1,20.6 1003.5,7.7 981.3,13.5 991.4,-0.3 971.8,-13.3 997.7,-8.9"/>
<polygon points="1102.4,88.1 1107.5,105.9 1132.3,109.7 1110.7,117.0 1115.8,134.8 1097.4,121.5 1075.8,128.7 1086.0,113.2 1067.5,99.8 1092.2,103.6"/>
<polygon points="992.8,60.0 998.1,77.5 1023.5,81.7 1001.5,88.4 1006.8,105.9 987.9,92.5 965.8,99.1 976.1,84.2 957.2,70.8 982.5,75.0"/>
<polygon points="727.2,57.6 735.0,78.1 754.2,75.5 739.8,90.8 747.6,111.3 731.0,100.2 716.6,115.5 720.6,93.4 703.9,82.3 723.2,79.7"/>
<polygon points="1417.8,419.6 1422.9,438.5 1443.8,437.8 1426.0,450.2 1431.2,469.2 1415.0,457.9 1397.3,470.4 1405.1,451.0 1389.0,439.7 1409.9,439.0"/>
<polygon points="1420.0,570.5 1424.3,588.1 1446.7,588.4 1427.0,598.9 1431.3,616.5 1414.8,605.4 1395.1,615.9 1404.6,598.6 1388.1,587.5 1410.5,587.8"/>
<polygon points="918.4,962.2 924.4,980.8 946.1,981.2 928.1,992.3 934.1,1010.9 917.1,999.1 899.1,1010.2 906.5,991.9 889.4,980.2 911.1,980.6"/>
<polygon points="960.1,1016.7 965.9,1034.8 987.8,1035.7 969.5,1045.9 975.2,1064.0 958.1,1052.2 939.8,1062.4 947.6,1045.0 930.5,1033.2 952.4,1034.2"/>
<polygon points="1090.1,944.2 1094.9,962.4 1119.8,966.3 1097.9,973.6 1102.7,991.8 1084.3,978.2 1062.4,985.5 1073.0,969.7 1054.7,956.0 1079.5,960.0"/>
<polygon points="1297.1,759.9 1303.5,778.5 1322.3,774.5 1307.5,790.0 1314.0,808.5 1298.4,799.5 1283.6,815.0 1288.8,793.9 1273.2,784.9 1291.9,780.9"/>
<polygon points="1363.7,736.2 1369.9,755.1 1389.0,751.6 1373.8,766.8 1380.0,785.7 1364.3,776.2 1349.1,791.3 1354.7,770.3 1339.0,760.7 1358.1,757.2"/>
<polygon points="1138.2,152.7 1143.1,171.0 1167.8,174.9 1146.1,182.3 1150.9,200.6 1132.6,186.9 1110.9,194.4 1121.3,178.5 1103.0,164.8 1127.8,168.7"/>
<polygon points="538.4,269.3 543.2,287.5 566.8,288.9 546.2,298.7 551.1,316.9 533.6,304.8 513.0,314.6 522.7,297.3 505.2,285.1 528.7,286.6"/>
<polygon points="504.7,354.9 509.7,373.3 531.9,373.3 512.8,384.7 517.8,403.2 500.9,391.8 481.8,403.3 490.5,384.8 473.7,373.4 495.9,373.4"/>
<polygon points="498.6,469.4 505.7,490.3 525.4,487.8 510.1,503.3 517.2,524.3 500.7,512.9 485.4,528.4 490.4,505.9 473.9,494.5 493.6,491.9"/>
<polygon points="517.5,613.1 526.2,635.4 544.5,632.2 531.5,649.3 540.2,671.6 523.5,659.8 510.5,676.9 513.2,652.5 496.4,640.7 514.8,637.4"/>
<polygon points="501.9,705.1 509.7,726.4 528.3,723.0 514.6,739.5 522.4,760.7 506.1,749.7 492.3,766.1 496.0,742.8 479.6,731.8 498.2,728.4"/>
<polygon points="649.6,295.3 656.2,314.7 677.7,312.8 660.3,326.7 667.0,346.2 649.6,335.3 632.2,349.2 638.8,328.6 621.5,317.8 642.9,315.9"/>
<polygon points="727.8,287.9 735.8,307.7 755.1,303.6 740.7,320.0 748.7,339.8 731.8,330.1 717.4,346.4 721.4,324.1 704.5,314.3 723.8,310.3"/>
<polygon points="796.1,262.9 804.2,282.3 822.2,277.7 809.2,294.3 817.3,313.7 801.2,304.6 788.1,321.3 791.2,299.0 775.1,289.9 793.1,285.2"/>
<polygon points="1317.4,287.4 1324.4,307.2 1347.9,308.6 1328.7,319.4 1335.6,339.1 1316.8,326.0 1297.6,336.8 1305.2,317.9 1286.3,304.8 1309.8,306.3"/>
<polygon points="1212.8,264.1 1218.9,283.1 1244.2,286.9 1222.6,294.8 1228.7,313.7 1209.3,299.6 1187.7,307.5 1197.3,290.9 1177.9,276.8 1203.2,280.7"/>
<polygon points="964.3,770.6 970.5,787.5 996.2,791.5 974.3,797.9 980.4,814.7 960.7,801.8 938.8,808.2 948.6,793.8 928.9,780.9 954.6,785.0"/>
<polygon points="1109.1,739.7 1114.9,756.4 1137.1,756.8 1118.5,766.8 1124.3,783.5 1107.0,772.9 1088.4,782.8 1096.3,766.4 1079.0,755.8 1101.1,756.2"/>
<polygon points="1186.2,732.1 1192.0,749.1 1212.4,747.1 1195.6,759.6 1201.3,776.7 1185.2,767.4 1168.4,779.9 1175.2,761.6 1159.1,752.3 1179.4,750.4"/>
<polygon points="1059.4,881.8 1064.5,899.6 1089.1,903.3 1067.6,910.7 1072.7,928.5 1054.3,915.3 1032.8,922.7 1043.0,907.1 1024.6,893.8 1049.2,897.4"/>
<polygon points="949.5,853.6 955.0,871.2 980.0,874.8 958.4,882.2 963.9,899.8 945.0,886.7 923.4,894.0 933.3,878.6 914.5,865.4 939.5,869.0"/>
<polygon points="602.4,729.5 609.8,749.8 628.5,747.3 614.5,762.4 622.0,782.7 605.8,771.7 591.7,786.7 595.8,764.8 579.6,753.8 598.3,751.3"/>
<polygon points="672.9,727.6 680.2,747.0 700.4,746.7 684.7,759.0 692.0,778.5 675.0,766.7 659.3,779.0 664.5,759.4 647.5,747.6 667.7,747.2"/>
<polygon points="758.1,738.7 765.0,756.7 787.8,758.5 769.3,767.8 776.3,785.8 757.9,773.5 739.5,782.8 746.6,765.9 728.2,753.7 751.0,755.5"/>
<polygon points="855.0,749.3 861.7,766.3 886.9,769.9 865.8,776.8 872.4,793.8 852.7,781.1 831.6,788.0 840.5,773.2 820.8,760.5 846.1,764.1"/>
<polygon points="961.7,168.5 967.5,187.0 989.1,187.7 971.1,198.4 976.9,216.9 959.9,205.1 941.9,215.8 949.4,197.7 932.5,185.9 954.1,186.6"/>
<polygon points="907.1,295.7 913.9,313.7 931.4,310.0 918.0,324.8 924.8,342.8 909.8,333.9 896.5,348.7 900.6,328.5 885.6,319.6 903.1,316.0"/>
<polygon points="1003.0,222.7 1008.6,240.7 1029.8,241.2 1012.1,251.8 1017.7,269.8 1001.2,258.4 983.5,269.0 991.0,251.3 974.4,239.8 995.6,240.4"/>
<polygon points="926.9,99.5 932.8,117.8 955.9,119.6 936.4,129.1 942.2,147.3 924.3,134.9 904.8,144.4 913.2,127.3 895.3,114.8 918.5,116.7"/>
<polygon points="1375.1,358.6 1381.2,377.9 1402.8,377.5 1385.0,389.9 1391.1,409.2 1374.0,397.5 1356.2,409.9 1363.5,390.3 1346.3,378.6 1367.9,378.2"/>
<polygon points="1398.0,664.3 1403.2,682.5 1424.1,681.0 1406.4,693.7 1411.7,711.9 1395.5,701.6 1377.8,714.3 1385.5,695.2 1369.3,684.9 1390.3,683.4"/>
<polygon points="883.5,899.8 889.5,918.4 912.0,919.3 893.3,929.9 899.3,948.5 881.7,936.4 862.9,947.0 870.8,929.0 853.1,916.9 875.6,917.8"/>
<polygon points="927.5,1075.3 934.1,1093.3 954.0,1092.4 938.2,1104.4 944.7,1122.4 928.3,1111.9 912.5,1123.9 918.2,1105.3 901.8,1094.8 921.8,1093.9"/>
<polygon points="1002.1,1072.7 1007.7,1090.4 1030.6,1092.5 1011.1,1101.4 1016.7,1119.1 999.1,1106.9 979.7,1115.8 988.2,1099.4 970.6,1087.2 993.5,1089.2"/>
<polygon points="986.3,918.4 991.3,936.5 1015.7,939.8 994.4,947.7 999.4,965.8 981.2,952.6 959.9,960.5 970.0,944.4 951.8,931.2 976.2,934.5"/>
<polygon points="569.9,314.4 574.8,332.6 597.8,332.7 577.9,343.8 582.8,362.0 565.6,350.7 545.7,361.7 554.9,343.7 537.7,332.3 560.6,332.5"/>
<polygon points="538.0,406.1 543.5,425.1 565.0,423.8 546.9,436.9 552.4,455.9 535.8,445.0 517.7,458.1 525.5,438.2 508.8,427.3 530.3,425.9"/>
<polygon points="540.4,530.9 548.5,552.9 567.7,550.3 553.5,566.5 561.6,588.6 544.7,576.6 530.5,592.9 534.2,569.2 517.4,557.3 536.6,554.6"/>
<polygon points="847.3,121.8 854.5,141.1 874.8,139.6 858.9,153.1 866.1,172.4 849.1,161.4 833.3,174.9 838.6,154.6 821.7,143.7 842.0,142.1"/>
<polygon points="1021.7,735.7 1027.8,752.4 1052.4,755.3 1031.6,762.7 1037.7,779.3 1018.7,767.2 997.9,774.6 1007.0,759.8 988.0,747.7 1012.6,750.6"/>
<polygon points="1261.6,718.0 1267.5,735.6 1286.7,731.9 1271.1,746.5 1277.0,764.1 1261.5,755.5 1245.9,770.1 1251.9,750.2 1236.4,741.6 1255.6,737.9"/>
<polygon points="838.6,311.5 846.1,330.0 863.5,325.1 850.7,341.4 858.2,359.9 842.7,351.5 829.9,367.8 833.2,346.3 817.8,337.9 835.3,333.0"/>
<polygon points="970.6,281.0 976.6,298.8 995.3,297.0 980.4,309.7 986.4,327.5 971.1,317.6 956.2,330.4 961.7,311.5 946.4,301.6 965.1,299.9"/>
<polygon points="1150.4,302.5 1156.1,320.9 1180.6,324.3 1159.7,332.2 1165.4,350.6 1146.7,337.2 1125.8,345.1 1135.2,328.9 1116.6,315.4 1141.0,318.8"/>
<polygon points="1044.4,278.1 1049.9,295.8 1071.0,296.6 1053.2,306.8 1058.7,324.5 1042.3,313.1 1024.5,323.2 1032.1,306.0 1015.7,294.6 1036.8,295.3"/>
<polygon points="1031.0,125.6 1035.9,143.7 1060.4,147.3 1038.9,154.9 1043.8,172.9 1025.6,159.5 1004.1,167.0 1014.4,151.2 996.2,137.8 1020.7,141.4"/>
<polygon points="1368.5,477.3 1372.5,495.1 1394.0,494.5 1375.0,506.1 1379.0,523.8 1363.2,513.2 1344.2,524.7 1353.5,506.6 1337.7,496.0 1359.2,495.4"/>
<polygon points="1363.3,613.3 1368.0,631.0 1389.1,629.5 1370.9,642.0 1375.6,659.7 1359.6,649.7 1341.4,662.2 1349.8,643.5 1333.8,633.5 1355.0,632.0"/>
<polygon points="568.0,682.3 576.0,703.4 594.4,700.6 580.9,716.5 588.8,737.6 572.5,726.3 559.0,742.2 562.4,719.3 546.1,708.0 564.6,705.2"/>
<polygon points="1328.2,687.2 1333.9,705.3 1353.3,701.7 1337.4,716.5 1343.1,734.6 1327.6,725.6 1311.6,740.3 1318.0,720.0 1302.5,711.0 1321.9,707.5"/>
<polygon points="601.8,358.9 607.1,377.4 629.4,376.1 610.4,388.8 615.7,407.2 598.7,396.6 579.7,409.2 588.1,390.0 571.0,379.4 593.3,378.1"/>
<polygon points="697.1,358.3 704.3,377.6 725.0,373.8 708.8,389.4 716.0,408.6 698.8,399.1 682.7,414.7 688.2,393.2 671.0,383.6 691.6,379.9"/>
<polygon points="772.2,341.1 780.1,360.1 798.7,355.1 784.9,371.9 792.7,390.9 776.4,382.3 762.6,399.1 766.3,376.9 749.9,368.3 768.6,363.3"/>
<polygon points="1264.9,335.6 1271.1,354.3 1295.3,356.2 1274.9,365.8 1281.1,384.5 1262.3,371.8 1241.8,381.4 1250.6,363.9 1231.8,351.1 1256.1,353.1"/>
<polygon points="913.4,714.0 920.1,731.0 946.3,735.3 924.3,741.5 931.1,758.5 910.8,745.3 888.9,751.5 898.2,737.2 877.9,724.1 904.0,728.3"/>
<polygon points="1150.6,686.1 1155.9,702.5 1177.0,701.3 1159.1,712.7 1164.4,729.1 1148.1,719.7 1130.3,731.1 1138.0,713.9 1121.7,704.5 1142.8,703.3"/>
<polygon points="632.0,664.9 639.8,685.6 659.4,684.7 644.7,698.3 652.5,719.0 635.6,706.7 620.9,720.3 625.1,699.2 608.2,686.9 627.8,686.1"/>
<polygon points="711.5,676.1 719.1,695.5 740.9,697.1 723.8,707.5 731.3,726.9 713.2,713.9 696.1,724.2 702.0,705.8 683.8,692.8 705.6,694.5"/>
<polygon points="806.0,693.9 813.3,711.9 837.9,715.4 817.8,722.9 825.1,740.9 805.4,727.6 785.3,735.2 793.2,719.5 773.5,706.2 798.1,709.7"/>
<polygon points="1336.4,422.7 1341.1,440.7 1362.9,440.2 1344.0,451.9 1348.7,469.9 1332.3,459.0 1313.4,470.7 1322.2,452.4 1305.8,441.5 1327.6,441.0"/>
<polygon points="573.1,458.6 579.6,478.7 600.4,476.5 583.6,491.1 590.1,511.2 573.3,500.2 556.5,514.8 562.9,493.3 546.0,482.3 566.8,480.1"/>
<polygon points="589.4,601.6 597.8,623.5 617.0,621.8 603.0,637.0 611.4,658.9 594.3,646.4 580.3,661.6 583.8,638.7 566.8,626.2 586.0,624.5"/>
<polygon points="1071.3,691.7 1077.0,708.1 1100.0,709.2 1080.5,718.3 1086.3,734.7 1068.5,723.8 1049.0,732.9 1057.5,717.1 1039.8,706.3 1062.8,707.4"/>
<polygon points="1227.3,674.6 1232.5,691.6 1252.5,688.6 1235.7,702.0 1240.9,718.9 1225.3,710.3 1208.6,723.8 1215.7,705.0 1200.2,696.4 1220.2,693.4"/>
<polygon points="940.6,343.0 946.7,360.5 964.0,357.2 950.5,371.3 956.6,388.9 942.1,380.0 928.6,394.1 933.2,374.6 918.8,365.8 936.0,362.5"/>
<polygon points="879.6,362.4 886.3,380.2 903.4,375.7 890.5,391.3 897.3,409.1 882.5,400.9 869.6,416.4 873.4,395.8 858.7,387.6 875.8,383.0"/>
<polygon points="1311.7,526.0 1315.3,543.3 1336.8,542.2 1317.5,553.9 1321.0,571.2 1305.5,561.2 1286.2,572.9 1295.9,555.0 1280.4,545.0 1301.9,543.9"/>
<polygon points="629.5,406.6 635.5,425.6 657.2,423.1 639.3,437.3 645.3,456.2 628.2,446.0 610.2,460.1 617.6,439.7 600.4,429.5 622.1,427.1"/>
<polygon points="973.6,679.4 980.2,696.2 1005.6,699.7 984.2,706.5 990.8,723.3 971.0,710.8 949.7,717.6 958.8,703.0 939.1,690.5 964.5,694.0"/>
<polygon points="1295.4,645.2 1300.4,662.7 1320.3,659.5 1303.5,673.5 1308.5,691.0 1293.0,682.2 1276.2,696.2 1283.5,676.7 1268.1,667.9 1288.1,664.7"/>
<polygon points="814.5,389.1 822.0,407.4 840.1,402.3 826.6,418.7 834.1,437.0 818.3,428.8 804.8,445.2 808.5,423.8 792.7,415.6 810.8,410.5"/>
<polygon points="1002.4,329.7 1008.1,347.2 1026.6,345.8 1011.5,358.0 1017.1,375.5 1002.2,365.6 987.1,377.8 992.9,359.5 978.0,349.6 996.6,348.1"/>
<polygon points="1204.3,374.8 1210.0,392.9 1233.8,394.5 1213.5,404.1 1219.1,422.3 1200.9,410.0 1180.5,419.6 1189.6,402.5 1171.4,390.2 1195.2,391.9"/>
<polygon points="1088.1,338.8 1093.5,356.5 1114.9,357.7 1096.8,367.5 1102.2,385.2 1085.6,373.6 1067.5,383.3 1075.4,366.3 1058.8,354.6 1080.2,355.8"/>
<polygon points="742.3,414.1 750.0,433.0 770.0,428.5 754.8,444.7 762.5,463.5 745.4,454.7 730.1,470.8 734.8,449.2 717.7,440.3 737.6,435.8"/>
<polygon points="860.4,654.5 867.9,672.3 893.6,676.4 872.6,683.3 880.2,701.2 859.7,687.6 838.7,694.6 847.0,679.3 826.5,665.7 852.1,669.8"/>
<polygon points="665.6,608.0 673.8,628.8 694.6,629.4 678.8,641.7 687.0,662.5 669.0,649.3 653.2,661.6 657.9,641.1 640.0,627.9 660.9,628.5"/>
<polygon points="754.9,629.5 762.9,648.9 786.3,651.8 767.9,660.8 775.9,680.2 756.5,666.5 738.1,675.5 744.5,658.0 725.1,644.2 748.5,647.1"/>
<polygon points="616.1,527.5 624.0,548.8 644.4,547.1 628.9,561.9 636.8,583.2 619.3,571.0 603.8,585.8 608.5,563.6 591.0,551.4 611.4,549.8"/>
<polygon points="1285.9,478.2 1289.7,495.5 1311.5,494.7 1292.0,506.1 1295.8,523.4 1279.9,513.2 1260.4,524.7 1270.1,506.9 1254.3,496.8 1276.1,496.0"/>
<polygon points="1116.6,642.0 1121.6,658.2 1143.5,657.8 1124.8,668.2 1129.8,684.3 1113.2,674.6 1094.4,685.0 1102.9,668.6 1086.3,658.8 1108.1,658.4"/>
<polygon points="1192.9,629.9 1197.4,646.4 1218.2,644.3 1200.2,656.5 1204.7,673.0 1189.0,664.1 1171.0,676.3 1179.3,658.6 1163.7,649.7 1184.5,647.6"/>
<polygon points="1252.6,431.5 1257.2,449.0 1279.9,448.9 1260.1,459.8 1264.7,477.4 1247.9,466.6 1228.1,477.5 1237.5,459.9 1220.6,449.2 1243.3,449.1"/>
<polygon points="1258.5,583.7 1262.4,600.7 1283.4,598.6 1264.8,611.2 1268.7,628.1 1253.3,619.0 1234.7,631.6 1243.8,613.3 1228.4,604.1 1249.4,602.0"/>
<polygon points="662.0,447.4 669.0,466.8 690.3,463.8 673.3,478.8 680.3,498.1 662.9,488.0 645.9,503.0 652.1,481.7 634.6,471.6 655.9,468.6"/>
<polygon points="1029.5,640.9 1035.4,657.2 1059.1,659.1 1039.1,667.4 1044.9,683.7 1026.7,672.5 1006.6,680.7 1015.4,665.5 997.1,654.2 1020.8,656.1"/>
<polygon points="970.7,389.0 976.3,406.2 993.7,403.6 979.8,416.9 985.4,434.1 971.2,425.1 957.3,438.3 962.4,419.5 948.1,410.4 965.5,407.8"/>
<polygon points="914.0,408.9 920.3,426.4 937.4,422.8 924.1,437.2 930.4,454.6 915.9,446.0 902.6,460.4 906.9,440.8 892.5,432.2 909.6,428.6"/>
<polygon points="854.2,435.6 861.3,453.5 879.4,449.6 865.7,464.6 872.8,482.5 857.2,473.9 843.5,488.9 847.5,468.6 831.9,459.9 850.1,456.0"/>
<polygon points="920.1,619.5 927.3,636.8 952.2,640.1 931.8,647.5 939.0,664.8 919.1,652.1 898.7,659.6 906.9,644.3 887.1,631.6 911.9,634.8"/>
<polygon points="785.7,464.4 793.7,483.0 813.8,479.7 798.6,494.5 806.5,513.2 789.2,503.7 774.0,518.6 778.5,497.9 761.1,488.4 781.2,485.1"/>
<polygon points="1038.3,383.1 1043.6,400.4 1062.5,399.5 1046.8,411.1 1052.1,428.3 1037.1,418.2 1021.5,429.7 1027.9,411.9 1013.0,401.8 1031.9,400.9"/>
<polygon points="804.3,588.0 812.6,607.0 836.5,609.5 817.7,618.7 825.9,637.6 806.0,624.3 787.2,633.4 793.7,616.1 773.9,602.8 797.8,605.4"/>
<polygon points="703.7,557.3 712.0,577.5 733.9,578.0 717.2,590.1 725.5,610.3 706.8,597.5 690.0,609.5 695.3,589.6 676.6,576.8 698.5,577.2"/>
<polygon points="1302.8,379.6 1308.3,397.9 1331.1,398.2 1311.7,409.2 1317.2,427.5 1299.6,416.0 1280.2,426.9 1288.8,408.8 1271.3,397.3 1294.1,397.7"/>
<polygon points="1230.9,533.1 1234.4,549.9 1256.0,548.6 1236.6,560.3 1240.1,577.2 1224.6,567.6 1205.2,579.3 1215.0,561.6 1199.5,552.0 1221.1,550.7"/>
<polygon points="707.2,489.9 715.2,509.4 736.5,507.2 720.1,521.5 728.1,541.0 710.0,530.3 693.6,544.6 698.8,523.7 680.7,513.0 702.0,510.8"/>
<polygon points="1080.4,596.0 1085.4,612.1 1107.5,612.5 1088.5,622.1 1093.5,638.2 1076.7,628.1 1057.7,637.7 1066.4,621.8 1049.6,611.6 1071.7,611.9"/>
<polygon points="1161.2,587.2 1165.4,603.5 1186.8,602.2 1167.9,613.5 1172.1,629.8 1156.3,620.5 1137.5,631.7 1146.5,614.7 1130.8,605.4 1152.2,604.2"/>
<polygon points="980.4,584.5 986.6,601.1 1009.5,602.8 990.5,611.4 996.8,628.0 978.8,616.7 959.8,625.3 967.6,609.7 949.6,598.4 972.5,600.1"/>
<polygon points="1001.4,437.2 1006.8,454.2 1024.8,452.6 1010.0,464.7 1015.4,481.7 1000.9,472.2 986.1,484.3 992.0,466.3 977.5,456.8 995.6,455.2"/>
<polygon points="944.0,453.5 950.0,470.7 967.8,468.3 953.7,481.3 959.6,498.4 944.9,489.3 930.7,502.2 935.8,483.6 921.0,474.5 938.9,472.1"/>
<polygon points="889.3,480.2 896.2,497.8 915.2,495.6 900.5,508.7 907.4,526.3 891.4,516.8 876.7,529.8 881.5,510.9 865.5,501.3 884.5,499.1"/>
<polygon points="859.9,550.5 867.7,568.7 890.2,569.6 872.6,579.9 880.4,598.1 861.7,586.2 844.0,596.5 850.1,578.9 831.3,567.1 853.8,568.1"/>
<polygon points="753.9,529.3 762.3,548.7 784.4,548.4 767.5,560.6 775.8,580.0 757.0,568.2 740.0,580.4 745.3,560.9 726.5,549.1 748.6,548.8"/>
<polygon points="1080.1,444.1 1084.9,461.1 1104.7,460.8 1087.9,471.6 1092.8,488.6 1077.5,478.3 1060.7,489.1 1068.1,471.9 1052.9,461.6 1072.7,461.3"/>
<polygon points="937.3,537.3 943.9,554.4 964.9,554.6 948.0,565.0 954.6,582.0 937.5,571.3 920.6,581.6 927.0,564.7 909.9,554.0 930.9,554.2"/>
<polygon points="1035.6,491.1 1040.6,507.7 1060.0,507.2 1043.7,518.0 1048.7,534.6 1033.6,524.6 1017.3,535.4 1024.3,518.5 1009.2,508.5 1028.6,508.0"/>
<polygon points="972.5,498.7 978.4,515.5 997.6,514.6 982.0,525.9 987.8,542.7 972.3,532.8 956.7,544.1 962.7,526.8 947.3,516.9 966.5,516.0"/>
<polygon points="1111.8,491.9 1116.2,508.5 1136.9,508.3 1118.9,518.8 1123.3,535.5 1107.8,525.4 1089.8,535.9 1098.2,519.1 1082.7,509.0 1103.4,508.7"/>
<polygon points="1164.1,443.2 1168.8,460.5 1190.7,460.7 1171.7,471.2 1176.4,488.6 1159.9,477.8 1140.9,488.4 1149.7,471.1 1133.3,460.3 1155.2,460.5"/>
</g></svg>
<div id="glowwrap"><div id="glow"></div><div id="lineglow"></div></div>
<div id="band"></div>
<div id="redline"></div>
<div id="logo" style="position:absolute;left:98.1px;top:213.1px;width:233.8px;height:98.7px;overflow:hidden;background:linear-gradient(90deg,#0b2f92 0%,#0c3aae 45%,#0d3cb4 60%,#0a2c8c 100%);">
  <div style="position:absolute;left:0;top:0;width:100%;height:7.3px;background:#c0160d;"></div>
  <svg style="position:absolute;left:0;top:0;" width="233.8" height="98.7" viewBox="0 0 233.8 98.7">
    <defs>
      <linearGradient id="lgshade" x1="0" y1="0" x2="1" y2="1"><stop offset="0" stop-color="#071f6e" stop-opacity="0.55"/><stop offset="0.35" stop-color="#071f6e" stop-opacity="0"/></linearGradient>
    </defs>
    <polygon points="134,0 233.8,0 233.8,98.7 31,98.7" fill="url(#lgshade)"/>
    <polygon points="0,7.3 126.4,7.3 31,98.7 0,98.7" fill="#0c50d2"/>
    <polygon points="0,0 134,0 126.4,7.3 0,7.3" fill="#ee1d1d"/>
    <rect x="7.8" y="52.1" width="71.1" height="6.9" fill="#ee1d1d"/>
    <rect x="7.8" y="84.6" width="71.1" height="6.9" fill="#ee1d1d"/>
    <g fill="#ffffff">
      <polygon points="0,-8 1.88,-2.59 7.61,-2.47 3.04,0.99 4.7,6.47 0,3.2 -4.7,6.47 -3.04,0.99 -7.61,-2.47 -1.88,-2.59" transform="translate(16.6,72.2)"/>
      <polygon points="0,-8 1.88,-2.59 7.61,-2.47 3.04,0.99 4.7,6.47 0,3.2 -4.7,6.47 -3.04,0.99 -7.61,-2.47 -1.88,-2.59" transform="translate(43.7,72.2)"/>
      <polygon points="0,-8 1.88,-2.59 7.61,-2.47 3.04,0.99 4.7,6.47 0,3.2 -4.7,6.47 -3.04,0.99 -7.61,-2.47 -1.88,-2.59" transform="translate(70.3,72.2)"/>
    </g>
  </svg>
</div>

<div id="frame-v" style="position:absolute;left:397.4px;top:127.2px;width:6.6px;height:185.3px;background:#0443ae;"></div>
<div id="frame-h" style="position:absolute;left:397.4px;top:305.7px;width:186.3px;height:6.8px;background:#0443ae;"></div>
<div id="photo-mat" style="position:absolute;left:404px;top:127.2px;width:179.7px;height:178.5px;background:#fff;"></div>
<svg id="photo" style="position:absolute;left:408.3px;top:127.1px;" width="175.2" height="175.3" viewBox="25 18 1028 1029" preserveAspectRatio="none" role="img" aria-label="Michael Bloomberg portrait">
<defs>
<linearGradient id="pbg" x1="0" y1="0" x2="0" y2="1">
<stop offset="0" stop-color="#7b8394"/><stop offset="0.22" stop-color="#9aa0ad"/><stop offset="0.5" stop-color="#c2c5cb"/><stop offset="0.62" stop-color="#c7c9ce"/><stop offset="0.82" stop-color="#a3a8b1"/><stop offset="1" stop-color="#868c97"/>
</linearGradient>
<radialGradient id="pskin" cx="0.40" cy="0.32" r="0.8">
<stop offset="0" stop-color="#ecbb9b"/><stop offset="0.35" stop-color="#d99b79"/><stop offset="0.7" stop-color="#c07a58"/><stop offset="1" stop-color="#8f5038"/>
</radialGradient>
<linearGradient id="phair" x1="0" y1="0" x2="1" y2="0">
<stop offset="0" stop-color="#c4c3be"/><stop offset="0.3" stop-color="#adaba5"/><stop offset="0.65" stop-color="#8f8c85"/><stop offset="1" stop-color="#a5a39d"/>
</linearGradient>
<filter id="b2" x="-20%" y="-20%" width="140%" height="140%"><feGaussianBlur stdDeviation="2.5"/></filter>
<filter id="b5" x="-30%" y="-30%" width="160%" height="160%"><feGaussianBlur stdDeviation="6"/></filter>
<filter id="b12" x="-50%" y="-50%" width="200%" height="200%"><feGaussianBlur stdDeviation="14"/></filter>
<clipPath id="pclip"><rect x="25" y="18" width="1028" height="1029"/></clipPath>
</defs>
<g clip-path="url(#pclip)">
<rect x="25" y="18" width="1028" height="1029" fill="url(#pbg)"/>
<ellipse cx="110" cy="560" rx="260" ry="230" fill="#d0d2d6" opacity="0.45" filter="url(#b12)"/>
<ellipse cx="980" cy="600" rx="200" ry="200" fill="#c9cbd0" opacity="0.35" filter="url(#b12)"/>
<!-- suit -->
<path d="M25 900 L140 850 L230 810 L300 745 L340 900 L300 1047 L25 1047 Z" fill="#1b1e2a" filter="url(#b2)"/>
<path d="M690 795 L790 860 L1053 955 L1053 1047 L690 1047 Z" fill="#1b1e2a" filter="url(#b2)"/>
<path d="M25 905 L150 850 L290 760 L240 880 L25 965 Z" fill="#30354a" opacity="0.55" filter="url(#b5)"/>
<path d="M700 810 L800 870 L1053 960 L1053 1000 L780 920 Z" fill="#2c3042" opacity="0.5" filter="url(#b5)"/>
<!-- shirt -->
<path d="M296 752 L350 850 L520 965 L692 845 L702 1047 L268 1047 Z" fill="#f7f2ea" filter="url(#b2)"/>
<path d="M590 935 L692 855 L702 1047 L575 1047 Z" fill="#d5cec3" opacity="0.75" filter="url(#b5)"/>
<path d="M296 760 L330 860 L300 1047 L268 1047 Z" fill="#e4ded4" opacity="0.7" filter="url(#b5)"/>
<!-- neck -->
<path d="M350 740 L400 880 L520 968 L650 895 L705 790 L705 690 L350 690 Z" fill="#b06c4b" filter="url(#b2)"/>
<!-- tie -->
<path d="M440 985 L475 962 L535 968 L558 1000 L542 1047 L438 1047 L426 1005 Z" fill="#cf1f2d" filter="url(#b2)"/>
<path d="M500 965 L535 968 L558 1000 L542 1047 L510 1047 Z" fill="#9e1320" opacity="0.6" filter="url(#b5)"/>
<!-- ears -->
<path d="M262 360 C215 360 205 440 225 520 C240 590 265 635 300 630 L310 380 Z" fill="#d39373" filter="url(#b2)"/>
<path d="M250 400 C235 450 245 520 270 580" stroke="#b4694a" stroke-width="14" fill="none" opacity="0.6" filter="url(#b5)"/>
<path d="M795 430 C835 420 845 490 830 550 C820 595 800 610 785 605 Z" fill="#b26a4a" filter="url(#b2)"/>
<!-- hair -->
<path d="M255 385 C232 300 252 190 325 105 C395 35 500 8 600 18 C695 30 775 105 810 215 C835 305 842 390 818 475 L775 335 L690 170 L590 118 L430 138 L335 290 L305 425 Z" fill="url(#phair)" filter="url(#b2)"/>
<path d="M268 310 C285 205 345 110 450 55 C395 120 335 205 318 330 Z" fill="#dddcd8" opacity="0.85" filter="url(#b5)"/>
<path d="M420 60 C500 25 600 25 680 70 C600 50 500 55 430 90 Z" fill="#d2d1cc" opacity="0.7" filter="url(#b5)"/>
<path d="M700 85 C772 145 812 250 828 385 L792 305 C772 225 742 165 682 112 Z" fill="#66635d" opacity="0.75" filter="url(#b5)"/>
<path d="M300 180 C320 140 350 110 380 90" stroke="#7d7a74" stroke-width="8" fill="none" opacity="0.5" filter="url(#b2)"/>
<!-- face -->
<path d="M302 420 C296 330 330 205 420 142 C480 106 560 100 622 120 C712 150 777 240 796 340 C806 420 802 520 786 620 C770 720 735 800 685 860 C640 908 590 932 545 928 C485 922 410 880 365 815 C322 745 306 620 302 420 Z" fill="url(#pskin)" filter="url(#b2)"/>
<!-- shading: right side of face -->
<path d="M730 400 C796 420 802 520 776 640 C756 725 706 822 646 882 C706 762 738 600 730 400 Z" fill="#87472f" opacity="0.6" filter="url(#b12)"/>
<path d="M380 780 C430 860 500 910 560 915 C620 905 670 860 700 800 C640 850 560 870 480 840 Z" fill="#a9654a" opacity="0.55" filter="url(#b12)"/>
<!-- highlights -->
<ellipse cx="333" cy="510" rx="26" ry="95" fill="#fdeee3" opacity="0.9" filter="url(#b5)"/>
<ellipse cx="500" cy="240" rx="150" ry="85" fill="#f6d3ba" opacity="0.75" filter="url(#b12)"/>
<ellipse cx="470" cy="600" rx="60" ry="50" fill="#f0bfa0" opacity="0.6" filter="url(#b12)"/>
<!-- eye sockets -->
<ellipse cx="480" cy="425" rx="75" ry="32" fill="#a5674c" opacity="0.55" filter="url(#b5)"/>
<ellipse cx="700" cy="448" rx="70" ry="30" fill="#8c4f38" opacity="0.6" filter="url(#b5)"/>
<!-- brows -->
<path d="M392 386 C450 352 522 368 574 412 C522 394 450 384 398 402 Z" fill="#70513e" filter="url(#b2)"/>
<path d="M640 416 C690 394 742 400 784 428 C742 418 690 420 645 432 Z" fill="#614233" filter="url(#b2)"/>
<!-- eyes -->
<ellipse cx="478" cy="433" rx="40" ry="15" fill="#e3cbbd" filter="url(#b2)"/>
<ellipse cx="697" cy="456" rx="38" ry="14" fill="#cfae9b" filter="url(#b2)"/>
<circle cx="480" cy="431" r="16" fill="#453024" filter="url(#b2)"/>
<circle cx="697" cy="454" r="15" fill="#3f2a1c" filter="url(#b2)"/>
<path d="M430 455 C470 475 520 470 545 455" stroke="#b57c62" stroke-width="7" fill="none" opacity="0.7" filter="url(#b2)"/>
<path d="M655 478 C690 492 730 490 755 476" stroke="#9a5c45" stroke-width="7" fill="none" opacity="0.7" filter="url(#b2)"/>
<!-- nose -->
<path d="M560 440 C552 520 532 570 524 602 C540 632 600 642 642 616 C652 590 622 520 612 450 Z" fill="#e6ab8a" opacity="0.9" filter="url(#b5)"/>
<path d="M526 600 C556 636 612 642 648 612 C622 628 570 628 526 600 Z" fill="#824731" filter="url(#b2)"/>
<path d="M622 470 C642 540 658 592 642 616 C626 580 616 520 622 470 Z" fill="#a56146" opacity="0.75" filter="url(#b5)"/>
<!-- mouth -->
<path d="M442 686 C500 706 582 716 658 694 C602 726 500 722 442 686 Z" fill="#94503d" filter="url(#b2)"/>
<path d="M470 722 C530 752 600 752 650 722 C620 770 520 776 470 722 Z" fill="#cd8a6e" opacity="0.8" filter="url(#b5)"/>
<!-- folds -->
<path d="M418 596 C406 660 418 722 450 764" stroke="#aa694d" stroke-width="10" fill="none" opacity="0.75" filter="url(#b2)"/>
<path d="M692 618 C708 670 702 722 680 762" stroke="#87492f" stroke-width="10" fill="none" opacity="0.65" filter="url(#b2)"/>
<path d="M420 300 C480 285 560 285 640 300" stroke="#c98e6f" stroke-width="6" fill="none" opacity="0.5" filter="url(#b2)"/>
<path d="M410 340 C480 325 570 327 660 342" stroke="#c98e6f" stroke-width="6" fill="none" opacity="0.5" filter="url(#b2)"/>
</g>
</svg>

<svg id="txt" width="1920" height="1080" viewBox="0 0 1920 1080" style="position:absolute;left:0;top:0;overflow:visible" font-family="Liberation Sans, sans-serif" text-rendering="geometricPrecision">
<g transform="translate(0,111.36) scale(1.0248,0.9405)"><text id="head" x="92.92 124.49 150.81 177.12 190.27 219.18 245.50 258.65 284.97 311.28 328.29 357.91 387.54 414.51 441.48 454.96 473.05 504.20 519.75 553.96 588.17 619.31 634.59 671.80 700.46 717.61 737.67 769.14 783.45 800.61 818.63 852.91 879.31 916.24 942.64 959.73 991.86 1021.29 1034.67" y="0" font-size="50" font-weight="bold" fill="#d81900" stroke="#d81900" stroke-width="0.5" xml:space="preserve">Exclusive Local 4/The Detroit News Poll</text></g>
<g transform="translate(0,142.22) scale(0.9903,0.9000)"><text id="date" x="96.62 111.55 127.85 145.50 152.29 161.88 177.57 193.26 199.94 208.60 214.50 235.79 254.26 272.72 279.82 285.63 299.23 306.02 315.69 331.88 348.08 364.27" y="0" font-size="26" font-weight="bold" fill="#0145ae" stroke="#0145ae" stroke-width="0.4" xml:space="preserve">FEB. 28 - MAR. 2, 2020</text></g>
<g transform="translate(0,167.04) scale(0.7975,0.9000)"><text id="src1" x="122.64 139.12 152.86 166.59 174.82 187.17 200.91 207.77 215.69 236.90 242.95 258.12 273.28 288.44 303.60 312.68 318.74 326.31 333.40 342.12 361.13 369.27 382.86 396.45 410.05 416.84 425.36 433.09 448.57 462.49" y="0" font-size="26" font-weight="normal" fill="#d81900" stroke="#d81900" stroke-width="0.8" xml:space="preserve">Source: Glengariff Group, Inc.</text></g>
<g transform="translate(0,196.94) scale(0.7682,0.9000)"><text id="src2" x="128.46 143.64 152.59 168.78 178.48 185.77 193.91 207.50" y="0" font-size="26" font-weight="normal" fill="#d81900" stroke="#d81900" stroke-width="0.8" xml:space="preserve">+ or -4%</text></g>
<g transform="translate(0,223.12) scale(0.9282,0.9645)"><text id="title1" x="659.61 722.23 774.03 848.43 922.26 997.04 1059.38 1117.46 1181.37 1249.04 1271.79 1329.71 1394.33 1454.02 1513.66 1584.35 1647.48 1703.54 1762.38 1823.68" y="0" font-size="87" font-weight="bold" fill="#0145ae" stroke="#0145ae" stroke-width="1.0" xml:space="preserve">BLOOMBERG SUPPORTERS</text></g>
<g transform="translate(0,309.12) scale(0.9414,0.9645)"><text id="title2" x="649.26 704.99 763.03 827.63 900.51 967.65 1030.48 1057.64 1122.04 1188.00 1260.51 1285.70 1349.45 1406.00" y="0" font-size="87" font-weight="bold" fill="#0145ae" stroke="#0145ae" stroke-width="1.0" xml:space="preserve">SECOND CHOICES</text></g>
<g transform="translate(0,495.01) scale(0.9996,0.9780)"><text id="n1" x="374.66 455.43 489.32 563.35 629.45" y="0" font-size="116" font-weight="bold" fill="#0145ae" stroke="#0145ae" stroke-width="1.2" xml:space="preserve">Biden</text></g>
<g transform="translate(0,611.91) scale(0.9381,0.9780)"><text id="n2" x="403.19 479.64 551.19 628.21 706.32 775.95 819.78" y="0" font-size="116" font-weight="bold" fill="#0145ae" stroke="#0145ae" stroke-width="1.2" xml:space="preserve">Sanders</text></g>
<g transform="translate(0,729.31) scale(1.0096,0.9780)"><text id="n3" x="384.28 489.71 556.40 601.35 647.21 710.94" y="0" font-size="116" font-weight="bold" fill="#0145ae" stroke="#0145ae" stroke-width="1.2" xml:space="preserve">Warren</text></g>
<g transform="translate(0,495.12) scale(0.9941,0.9712)"><text id="p1" x="1163.18 1237.11 1300.54 1332.12 1393.14" y="0" font-size="113" font-weight="bold" fill="#0145ae" stroke="#0145ae" stroke-width="1.2" xml:space="preserve">49.2%</text></g>
<g transform="translate(0,612.12) scale(0.9630,0.9713)"><text id="p2" x="1235.97 1289.87 1342.13 1374.89 1439.81" y="0" font-size="113" font-weight="bold" fill="#0145ae" stroke="#0145ae" stroke-width="1.2" xml:space="preserve">17.5%</text></g>
<g transform="translate(0,729.12) scale(0.9681,0.9713)"><text id="p3" x="1221.17 1274.16 1339.26 1372.00 1431.96" y="0" font-size="113" font-weight="bold" fill="#0145ae" stroke="#0145ae" stroke-width="1.2" xml:space="preserve">12.7%</text></g>
<g transform="translate(0,258.08) scale(0.9553,0.9486)"><text id="lg1" x="108.86 143.46 175.42 210.01 223.33 255.28 268.59 305.86" y="0" font-size="48" font-weight="bold" fill="#ffffff" stroke="#ffffff" stroke-width="1.3" xml:space="preserve">DECISION</text></g>
<g transform="translate(0,303.92) scale(1.1849,0.9775)"><text id="lg2" x="154.19 184.19 214.19 244.19" y="0" font-size="54" font-weight="bold" fill="#ffffff" stroke="#ffffff" stroke-width="2.2" xml:space="preserve">2020</text></g>
<rect x="1194.95" y="598.35" width="20.00" height="16.65" fill="#fff"/>
<rect x="1230.95" y="598.35" width="19.03" height="16.65" fill="#fff"/>
<rect x="1186.96" y="715.35" width="20.09" height="16.65" fill="#fff"/>
<rect x="1223.14" y="715.35" width="19.13" height="16.65" fill="#fff"/>
</svg>
</body>
</html>
